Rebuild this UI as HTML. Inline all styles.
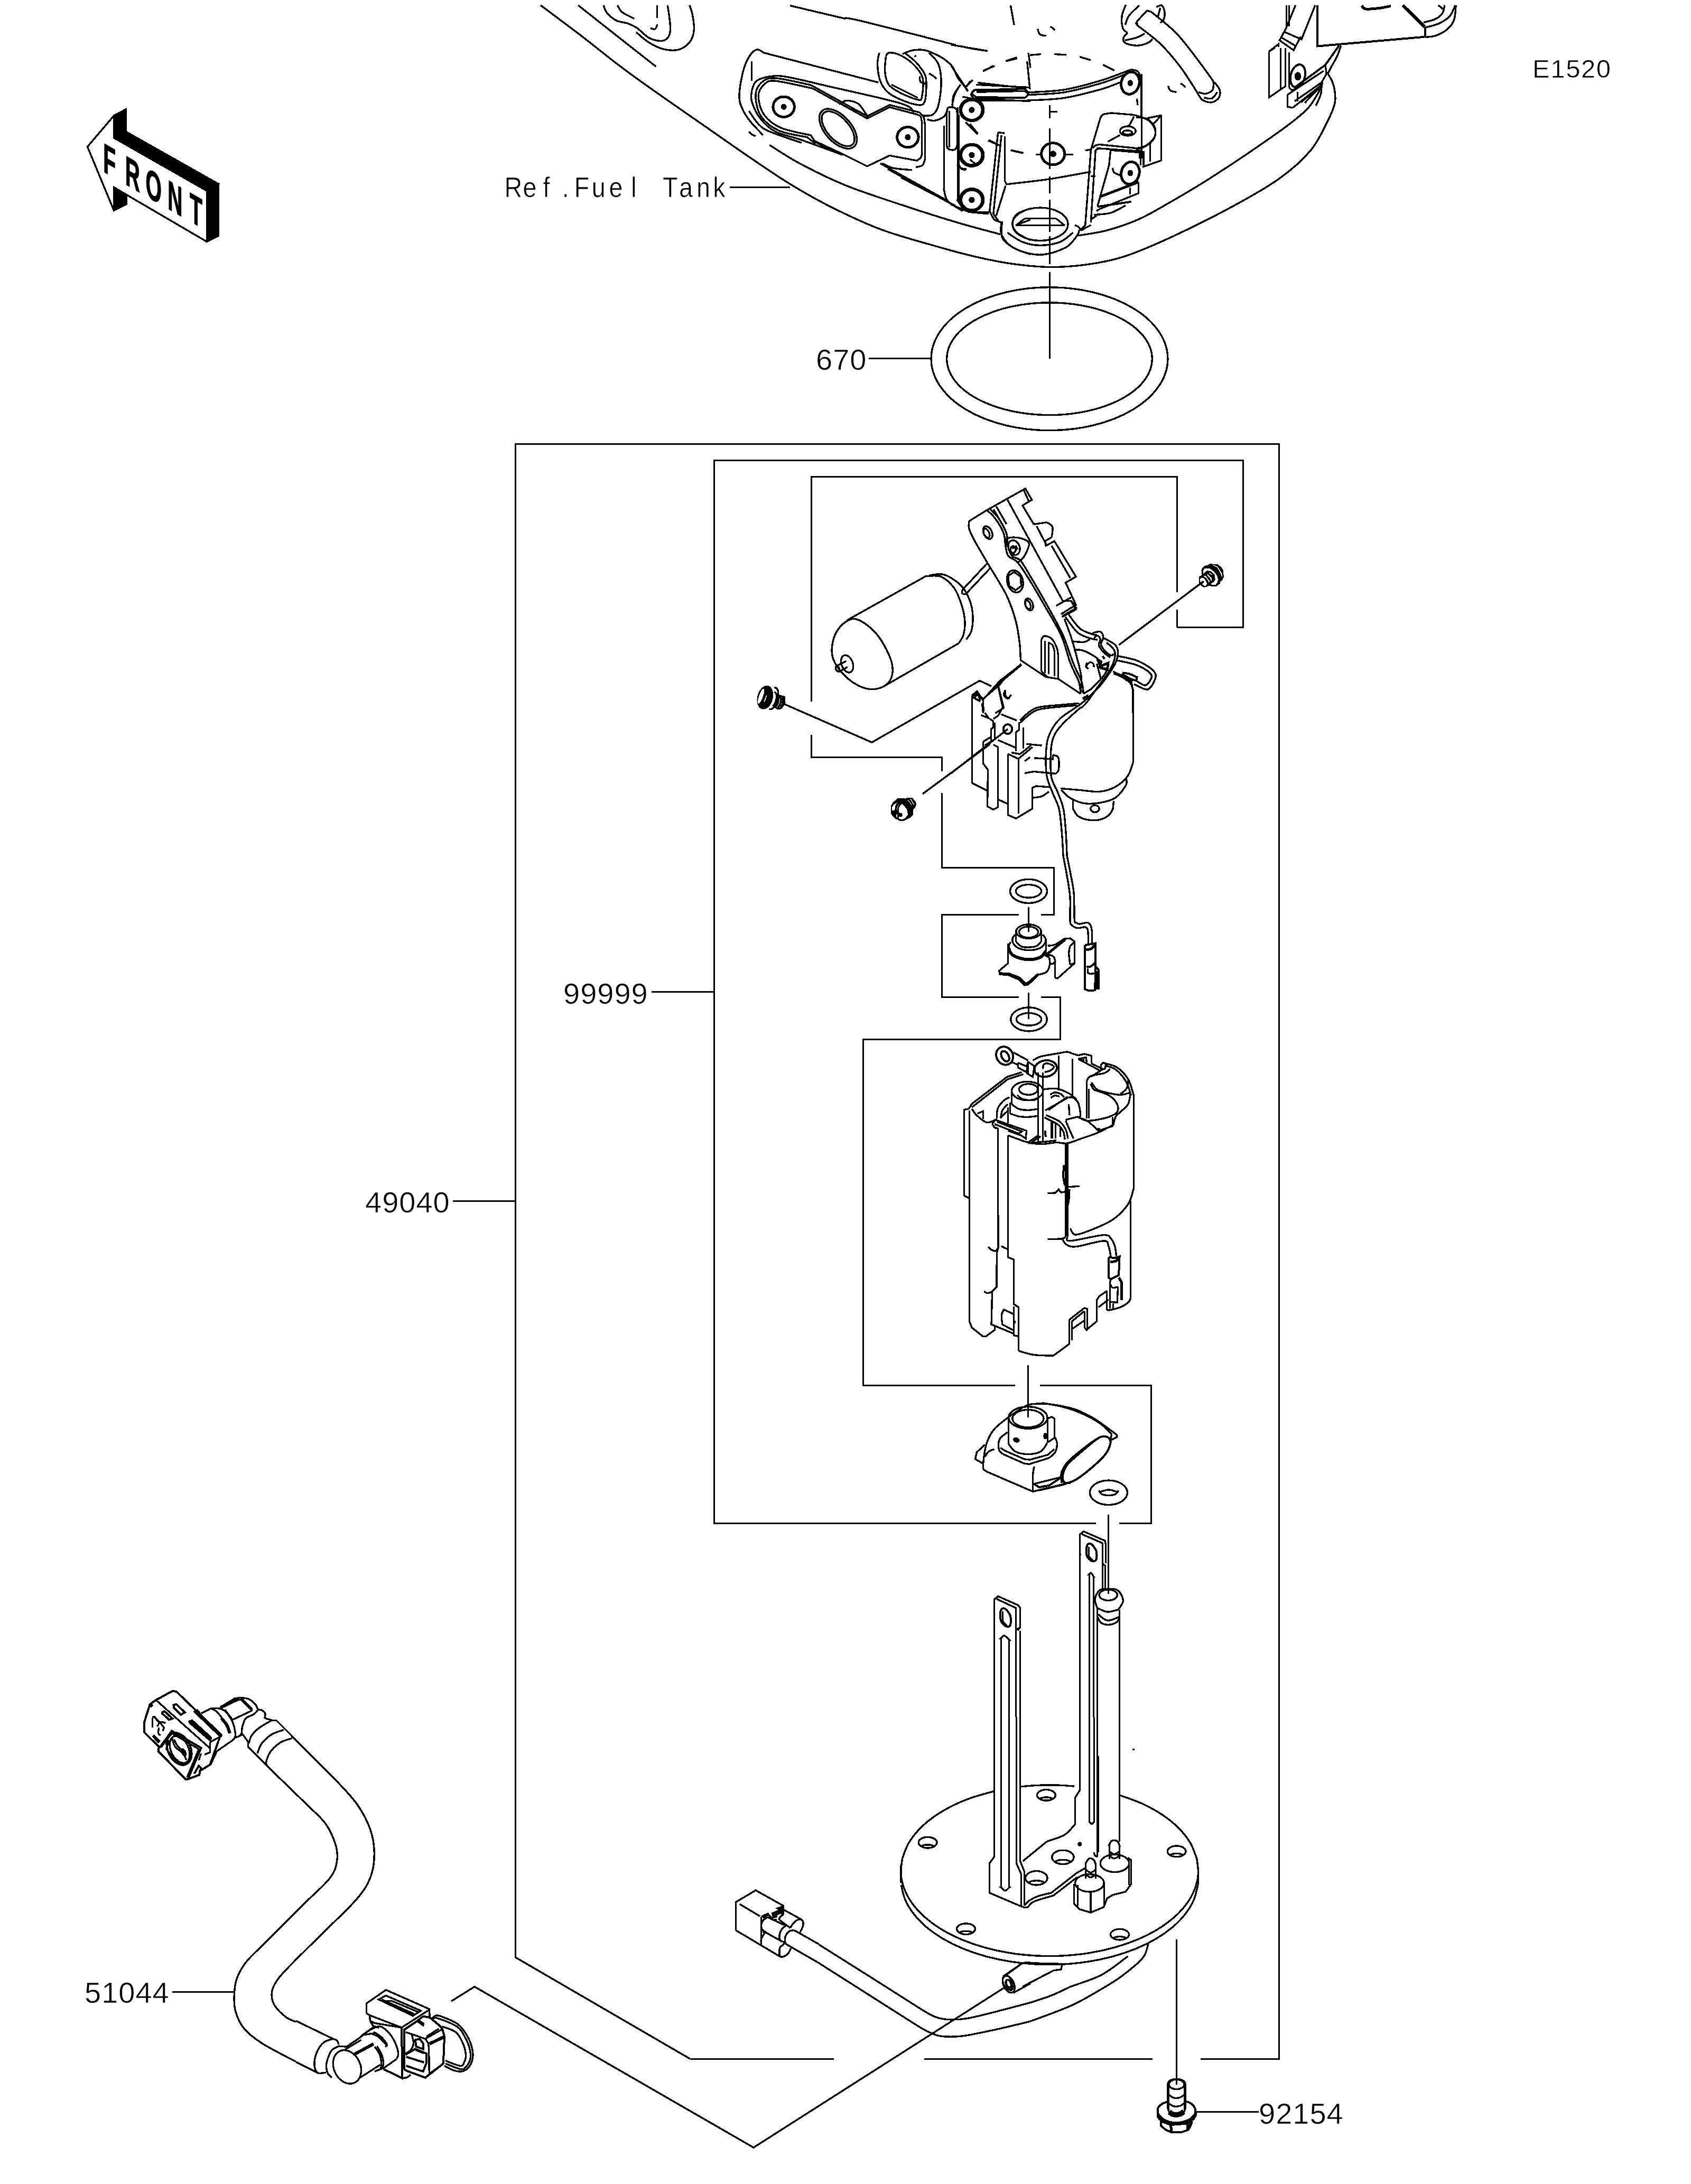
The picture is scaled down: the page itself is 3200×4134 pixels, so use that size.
<!DOCTYPE html>
<html><head><meta charset="utf-8"><title>E1520 Fuel Pump</title>
<style>
html,body{margin:0;padding:0;background:#fff}
svg{display:block}
.ln path,.ln ellipse,.ln circle,.ln rect{fill:none;stroke:#000;stroke-width:3.4;stroke-linecap:butt;stroke-linejoin:miter}
text{font-family:"Liberation Sans",sans-serif;fill:#000}
</style></head><body>
<svg width="3200" height="4134" viewBox="0 0 3200 4134" shape-rendering="crispEdges">
<rect width="3200" height="4134" fill="#fff"/>
<g class="ln" fill="none" stroke="#000" stroke-width="3">
<path d="M1306.5 3897.5 L975.5 3705.0 L975.5 840.5 L2420.5 840.5 L2420.5 3897.5 L2272.0 3897.5"/>
<path d="M2181.0 3897.5 L1749.0 3897.5"/>
<path d="M1577.5 3897.5 L1306.5 3897.5"/>
<path d="M2227.5 1187.5 L2352.5 1187.5 L2352.5 871.5 L1351.5 871.5 L1351.5 2883.5 L2074.0 2883.5"/>
<path d="M2118.0 2883.5 L2178.5 2883.5 L2178.5 2622.5 L1968.0 2622.5"/>
<path d="M1921.0 2622.5 L1633.5 2622.5 L1633.5 1967.5 L2006.5 1967.5 L2006.5 1887.5 L1970.0 1887.5"/>
<path d="M1927.5 1887.5 L1782.5 1887.5 L1782.5 1731.5 L1927.5 1731.5"/>
<path d="M1970.0 1731.5 L1994.5 1731.5 L1994.5 1642.5 L1782.5 1642.5 L1782.5 1501.0"/>
<path d="M1782.5 1460.0 L1782.5 1433.5 L1535.5 1433.5 L1535.5 1391.0"/>
<path d="M1535.5 1328.0 L1535.5 902.5 L2227.5 902.5 L2227.5 1120.5"/>
<path d="M2227.5 1153.5 L2227.5 1187.5"/>
<path d="M857.0 2273.5 L975.0 2273.5"/>
<path d="M1233.0 1877.5 L1351.0 1877.5"/>
<path d="M326.0 3770.5 L443.0 3770.5"/>
<path d="M2262.0 3997.5 L2382.0 3997.5"/>
<path d="M1381.0 354.5 L1495.0 354.5"/>
<path d="M1643.5 678.5 L1762.0 678.5"/>
<path d="M1906.5 3758.5 L1426.0 4065.0 L898.0 3760.5 L854.0 3788.0"/>
<path d="M2226.5 3671.0 L2226.5 3945.5"/>
<ellipse cx="1986.0" cy="679.2" rx="223.9" ry="135.5"/>
<ellipse cx="1986.0" cy="679.2" rx="194.4" ry="106.4"/>
<path d="M1986.5 515.3 L1986.5 679.2"/>
<path d="M165.5 277.7 L215.9 218.6 L238.5 206.8 L238.5 249.3 L413.5 348.2 L413.5 446.2 L391.4 457.5 L215.5 354.6 L215.5 398.4 L165.5 277.7 Z"/>
<path d="M215.9 218.6 L238.5 206.8 L238.5 249.3 L413.4 348.2 L391.4 361.2 L215.9 261.2 Z" style="fill:#000;"/>
<path d="M391.4 361.2 L413.5 348.2 L413.5 446.2 L391.4 457.5 Z" style="fill:#000;"/>
<path d="M215.9 354.6 L239.5 368.8 L239.5 386.5 L215.9 398.4 Z" style="fill:#000;"/>
<path d="M1023.0 10.0 C1035.7 19.5 1073.3 47.3 1099.0 67.0 C1124.7 86.7 1151.0 108.5 1177.0 128.0 C1203.0 147.5 1228.3 165.2 1255.0 184.0 C1281.7 202.8 1309.7 222.0 1337.0 241.0 C1364.3 260.0 1392.3 279.9 1419.0 298.0 C1445.7 316.1 1470.7 333.5 1497.0 349.5 C1523.3 365.5 1548.3 379.8 1577.0 394.0 C1605.7 408.2 1636.7 423.0 1669.0 435.0 C1701.3 447.0 1742.2 457.7 1771.0 466.0 C1799.8 474.3 1818.3 479.5 1842.0 485.0 C1865.7 490.5 1888.8 495.6 1913.0 499.0 C1937.2 502.4 1963.3 505.2 1987.0 505.5 C2010.7 505.8 2031.8 504.2 2055.0 501.0 C2078.2 497.8 2099.5 494.5 2126.0 486.0 C2152.5 477.5 2179.7 465.8 2214.0 450.0 C2248.3 434.2 2297.5 409.7 2332.0 391.0 C2366.5 372.3 2396.3 355.7 2421.0 338.0 C2445.7 320.3 2464.8 303.0 2480.0 285.0 C2495.2 267.0 2504.3 245.0 2512.0 230.0 C2519.7 215.0 2523.8 205.0 2526.0 195.0 C2528.2 185.0 2526.3 176.8 2525.5 170.0 C2524.7 163.2 2523.1 159.0 2521.0 154.0 C2518.9 149.0 2514.3 142.3 2513.0 140.0"/>
<path d="M2040.0 446.0 C2049.2 444.3 2075.8 441.2 2095.0 436.0 C2114.2 430.8 2135.2 423.8 2155.0 415.0 C2174.8 406.2 2194.3 394.2 2214.0 383.0 C2233.7 371.8 2253.3 360.2 2273.0 348.0 C2292.7 335.8 2312.3 323.0 2332.0 310.0 C2351.7 297.0 2373.0 282.5 2391.0 270.0 C2409.0 257.5 2426.0 245.8 2440.0 235.0 C2454.0 224.2 2465.8 215.0 2475.0 205.0 C2484.2 195.0 2490.3 183.2 2495.0 175.0 C2499.7 166.8 2501.7 159.2 2503.0 156.0"/>
<path d="M1094.0 9.9 C1106.2 19.5 1142.2 48.1 1166.8 67.4 C1191.3 86.8 1228.9 116.2 1241.3 126.0"/>
<path d="M1141.9 9.9 C1143.1 12.4 1144.9 20.0 1149.0 24.8 C1153.2 29.7 1160.3 35.8 1166.8 39.0 C1173.3 42.3 1181.5 42.0 1188.1 44.4 C1194.6 46.7 1199.3 48.8 1205.8 53.2 C1212.3 57.7 1220.0 66.9 1227.1 71.0 C1234.2 75.0 1242.5 77.1 1248.4 77.4 C1254.3 77.6 1259.2 76.2 1262.6 72.7 C1265.9 69.3 1268.0 64.2 1268.6 56.8 C1269.2 49.4 1267.0 36.2 1266.1 28.4 C1265.2 20.6 1263.7 13.0 1263.3 9.9"/>
<path d="M1168.5 9.9 C1170.0 12.1 1172.1 18.8 1177.4 23.1 C1182.7 27.3 1196.6 33.4 1200.5 35.5"/>
<path d="M1243.5 9.9 L1243.5 33.7"/>
<path d="M1230.6 53.2 C1232.1 53.5 1237.3 56.2 1239.5 55.0 C1241.8 53.8 1243.3 47.6 1244.1 46.1"/>
<path d="M1204.0 61.0 C1207.9 64.2 1218.5 74.5 1227.1 79.8 C1235.7 85.2 1246.0 90.6 1255.5 93.0 C1264.9 95.3 1275.6 96.2 1283.9 94.0 C1292.1 91.8 1300.2 86.0 1305.1 79.8 C1310.1 73.6 1312.4 65.3 1313.3 56.8 C1314.2 48.2 1311.8 36.2 1310.5 28.4 C1309.1 20.6 1306.0 13.0 1305.1 9.9"/>
<path d="M1495.0 10.6 L1600.0 35.5"/>
<path d="M1456.4 274.6 C1465.9 280.4 1489.6 296.7 1513.2 309.3 C1536.9 321.9 1566.4 337.1 1598.4 350.1 C1630.3 363.2 1669.3 375.6 1704.8 387.4 C1740.3 399.2 1779.9 411.8 1811.3 421.1 C1842.6 430.5 1879.3 439.7 1892.9 443.5"/>
<path d="M1445.8 100.0 C1443.4 99.0 1436.3 92.2 1431.3 94.0 C1426.2 95.7 1420.1 102.7 1415.6 110.6 C1411.2 118.6 1407.4 129.6 1404.6 141.9 C1401.9 154.2 1398.6 173.1 1399.0 184.4 C1399.3 195.8 1403.1 202.2 1406.8 210.0 C1410.4 217.8 1414.8 223.7 1421.0 231.3 C1427.1 238.9 1439.9 251.4 1443.7 255.4"/>
<path d="M1422.5 116.0 L1422.5 153.2"/>
<path d="M1445.8 100.0 L1662.2 156.1"/>
<path d="M1417.4 249.0 C1418.3 249.9 1420.7 252.9 1422.7 254.3 C1424.8 255.8 1428.7 257.3 1429.8 257.9"/>
<path d="M1417.4 210.0 C1420.4 214.1 1428.7 228.3 1435.2 234.8 C1441.7 241.3 1442.8 243.1 1456.4 249.0 C1470.0 254.9 1506.7 266.8 1516.8 270.3"/>
<path d="M1422.7 171.0 C1424.2 168.0 1425.4 157.7 1431.6 153.2 C1437.8 148.8 1449.9 145.5 1460.0 144.4 C1470.0 143.2 1473.6 142.9 1491.9 146.1 C1510.3 149.4 1534.5 155.6 1570.0 163.9 C1605.5 172.1 1678.2 187.5 1704.8 195.8 C1731.4 204.1 1725.5 210.6 1729.7 213.5"/>
<path d="M1422.7 171.0 C1422.7 174.5 1420.1 183.4 1422.7 192.3 C1425.4 201.1 1431.3 214.7 1438.7 224.2 C1446.1 233.6 1454.1 242.2 1467.1 249.0 C1480.1 255.8 1495.5 257.6 1516.8 265.0 C1538.1 272.4 1581.8 288.6 1594.8 293.4"/>
<path d="M1538.1 167.4 C1526.2 165.1 1482.5 154.4 1467.1 153.2 C1451.7 152.0 1451.1 155.6 1445.8 160.3 C1440.5 165.1 1435.2 172.1 1435.2 181.6 C1435.2 191.1 1438.7 207.0 1445.8 217.1 C1452.9 227.1 1463.0 235.4 1477.7 241.9 C1492.5 248.4 1525.0 253.8 1534.5 256.1 L1534.5 256.1 L1541.6 266.8 L1598.4 293.4 L1641.0 314.7 L1683.5 294.4 L1735.0 304.0 L1735.0 304.0 C1736.2 303.1 1740.5 300.8 1742.1 298.7 C1743.7 296.6 1744.1 292.8 1744.6 291.6 L1744.5 291.6 L1744.5 231.3 L1744.6 231.3 C1744.1 229.5 1743.4 223.0 1742.1 220.6 C1740.8 218.3 1737.6 217.7 1736.8 217.1 L1736.8 217.1 L1683.5 202.9 L1641.0 224.2 L1538.1 167.4"/>
<path d="M1534.5 161.0 C1523.3 158.8 1482.8 148.6 1467.1 147.9 C1451.4 147.2 1446.7 151.2 1440.5 156.8 C1434.3 162.4 1429.8 171.0 1429.8 181.6 C1429.8 192.3 1433.1 209.7 1440.5 220.6 C1447.9 231.6 1459.7 240.7 1474.2 247.3 C1488.7 253.8 1518.5 257.6 1527.4 259.7 L1527.4 259.7 L1543.4 272.1"/>
<path d="M1534.5 161.0 L1641.0 219.9 L1683.5 198.6 L1740.3 212.8 L1740.3 212.8 C1741.6 214.4 1746.5 218.7 1748.1 222.4 C1749.8 226.1 1749.9 232.8 1750.2 234.8 L1750.5 234.8 L1750.5 302.2 L1750.2 302.2 C1749.5 304.0 1748.5 310.5 1745.6 312.9 C1742.8 315.3 1735.3 315.8 1733.2 316.4"/>
<path d="M1669.3 309.3 C1672.9 310.8 1681.2 316.1 1690.6 318.2 C1700.1 320.3 1720.2 321.2 1726.1 321.8"/>
<path d="M1541.6 266.8 L1548.7 272.1 L1594.8 293.4"/>
<ellipse cx="1483.1" cy="202.2" rx="20.2" ry="19.2" style="stroke-width:5;"/>
<ellipse cx="1483.1" cy="202.2" rx="3.9" ry="3.9" style="fill:#000;"/>
<ellipse cx="1717.9" cy="259.7" rx="20.2" ry="19.2" style="stroke-width:5;"/>
<ellipse cx="1717.9" cy="259.7" rx="3.9" ry="3.9" style="fill:#000;"/>
<ellipse cx="1838.9" cy="208.2" rx="20.2" ry="19.2" style="stroke-width:5;"/>
<ellipse cx="1838.9" cy="208.2" rx="3.9" ry="3.9" style="fill:#000;"/>
<ellipse cx="1838.9" cy="293.4" rx="20.2" ry="19.2" style="stroke-width:5;"/>
<ellipse cx="1838.9" cy="293.4" rx="3.9" ry="3.9" style="fill:#000;"/>
<ellipse cx="1838.9" cy="378.5" rx="20.2" ry="19.2" style="stroke-width:5;"/>
<ellipse cx="1838.9" cy="378.5" rx="3.9" ry="3.9" style="fill:#000;"/>
<ellipse cx="1586.0" cy="243.7" rx="45.4" ry="24.8" transform="rotate(48.0 1586.0 243.7)"/>
<ellipse cx="1586.0" cy="243.7" rx="40.4" ry="20.6" transform="rotate(48.0 1586.0 243.7)"/>
<path d="M1587.7 197.6 C1590.1 196.4 1596.0 190.8 1601.9 190.5 C1607.8 190.2 1617.3 192.0 1623.2 195.8 C1629.1 199.6 1634.2 208.8 1637.4 213.5 C1640.7 218.3 1641.8 222.4 1642.7 224.2"/>
<path d="M1612.6 204.7 L1630.3 213.5"/>
<path d="M1664.0 100.0 C1663.4 103.5 1660.2 112.4 1660.5 121.3 C1660.8 130.2 1662.5 144.4 1665.8 153.2 C1669.0 162.1 1673.5 168.6 1680.0 174.5 C1686.5 180.4 1695.4 184.7 1704.8 188.7 C1714.3 192.7 1729.4 197.8 1736.8 198.6 C1744.1 199.5 1746.5 198.6 1749.2 194.0 C1751.8 189.4 1752.4 179.5 1752.7 171.0 C1753.0 162.4 1754.2 151.4 1750.9 142.6 C1747.7 133.7 1739.7 124.8 1733.2 117.7 C1726.7 110.6 1715.5 103.0 1711.9 100.0"/>
<path d="M1676.4 107.1 C1676.1 111.8 1673.8 126.6 1674.7 135.5 C1675.5 144.4 1676.7 153.5 1681.8 160.3 C1686.8 167.1 1695.7 171.6 1704.8 176.3 C1714.0 181.0 1730.1 187.5 1736.8 188.7 C1743.4 189.9 1743.1 190.5 1744.6 183.4 C1746.0 176.3 1748.7 156.8 1745.6 146.1 C1742.5 135.5 1733.5 126.6 1726.1 119.5 C1718.7 112.4 1708.7 106.8 1701.3 103.5 C1693.9 100.3 1685.9 99.4 1681.8 100.0 C1677.6 100.6 1677.3 105.9 1676.4 107.1"/>
<path d="M1687.1 160.3 L1736.8 185.2"/>
<path d="M1740.3 144.4 C1740.6 146.1 1740.0 152.6 1742.1 155.0 C1744.1 157.4 1750.9 158.0 1752.7 158.5"/>
<path d="M1758.0 100.0 C1761.0 103.5 1771.9 111.8 1775.8 121.3 C1779.6 130.8 1781.1 143.8 1781.1 156.8 C1781.1 169.8 1778.4 189.3 1775.8 199.3 C1773.1 209.4 1769.9 213.8 1765.1 217.1 C1760.4 220.3 1750.4 218.6 1747.4 218.9"/>
<path d="M1758.0 139.0 C1759.5 139.9 1764.5 142.6 1766.9 144.4 C1769.3 146.1 1771.3 148.8 1772.2 149.7"/>
<path d="M1814.8 163.9 C1813.0 166.8 1806.2 175.1 1804.2 181.6 C1802.1 188.1 1802.7 199.3 1802.4 202.9"/>
<path d="M1754.5 226.0 C1756.9 226.4 1763.4 229.3 1768.7 228.4 C1774.0 227.6 1782.3 224.3 1786.4 220.6 C1790.6 217.0 1792.3 208.8 1793.5 206.4"/>
<path d="M1791.8 213.5 C1792.0 212.1 1791.9 206.4 1793.5 204.7 C1795.1 202.9 1798.6 202.6 1801.3 202.9 C1804.1 203.2 1808.2 204.7 1809.8 206.4 C1811.5 208.2 1811.0 212.4 1811.3 213.5 L1811.5 213.5 L1811.5 275.6 L1811.3 275.6 C1810.7 276.8 1809.5 281.4 1807.7 282.7 C1805.9 284.1 1803.0 284.1 1800.6 283.8 C1798.3 283.5 1795.0 282.3 1793.5 281.0 C1792.0 279.6 1792.0 276.5 1791.8 275.6 L1791.5 275.6 L1791.5 213.5"/>
<path d="M1796.5 210.0 L1796.5 279.2"/>
<path d="M1786.5 238.4 L1786.5 359.0 L1786.4 359.0 C1787.6 362.6 1787.6 373.5 1793.5 380.3 C1799.4 387.1 1817.2 396.6 1821.9 399.8"/>
<path d="M1814.5 217.1 L1814.5 380.3 L1814.8 380.3 C1816.0 382.7 1817.8 391.0 1821.9 394.5 C1826.0 398.0 1830.8 400.4 1839.7 401.6 C1848.5 402.8 1869.2 401.6 1875.1 401.6"/>
<path d="M1665.8 309.3 L1793.5 380.3"/>
<path d="M1680.0 320.0 L1821.9 398.0"/>
<path d="M1704.8 336.0 L1807.7 389.2"/>
<path d="M1811.3 311.1 C1812.4 312.3 1815.4 316.7 1818.4 318.2 C1821.3 319.7 1827.2 319.7 1829.0 320.0"/>
<path d="M1827.2 231.3 L1850.3 254.3"/>
<path d="M1869.8 266.1 L1892.9 275.6"/>
<path d="M1912.4 284.5 L1935.5 289.8"/>
<path d="M1860.9 133.7 L1882.2 124.8"/>
<path d="M1903.5 116.0 L1924.8 110.6"/>
<path d="M1836.1 153.2 L1829.0 163.9"/>
<path d="M1845.0 169.2 L1939.0 172.7 L1939.0 172.7 C1940.2 173.6 1946.1 176.0 1946.1 178.1 C1946.1 180.1 1940.2 184.0 1939.0 185.2 L1939.0 185.2 L1846.7 183.4 L1846.7 183.4 C1845.4 182.2 1839.2 178.7 1838.9 176.3 C1838.6 173.9 1844.0 170.4 1845.0 169.2"/>
<path d="M1846.7 160.3 L1950.0 165.6"/>
<path d="M1843.2 186.9 L1950.0 191.5"/>
<path d="M1946.1 100.0 L1950.0 128.4"/>
<path d="M1896.4 419.3 C1896.4 424.4 1892.9 441.2 1896.4 449.5 C1900.0 457.8 1908.8 463.7 1917.7 469.0 C1926.6 474.3 1944.6 479.4 1950.0 481.4"/>
<path d="M1950.0 394.5 C1945.8 396.3 1930.5 400.4 1924.8 405.1 C1919.1 409.9 1915.9 417.0 1915.9 422.9 C1915.9 428.8 1919.1 435.3 1924.8 440.6 C1930.5 445.9 1945.8 452.5 1950.0 454.8"/>
<path d="M1926.6 424.7 L1950.0 415.8"/>
<path d="M1707.7 102.3 C1710.7 101.1 1719.4 96.7 1726.1 95.4 C1732.8 94.1 1741.0 93.7 1747.6 94.6 C1754.3 95.5 1759.7 97.9 1766.1 100.8 C1772.5 103.6 1779.9 107.2 1786.1 111.5 C1792.2 115.9 1798.6 121.0 1803.0 126.9 C1807.3 132.8 1808.6 141.0 1812.2 146.9 C1815.8 152.8 1821.3 157.9 1824.5 162.3 C1827.7 166.6 1830.3 171.2 1831.4 173.0"/>
<path d="M1730.7 105.4 L1733.8 106.9" style="stroke-width:4;"/>
<path d="M1986.5 199.0 L1986.5 223.9"/>
<path d="M1986.5 243.4 L1986.5 319.7"/>
<path d="M1986.5 333.9 L1986.5 365.8"/>
<path d="M1986.5 378.2 L1986.5 438.5"/>
<path d="M1986.5 447.4 L1986.5 499.9"/>
<path d="M1987.0 211.5 L2000.5 211.5"/>
<path d="M1943.7 174.9 C1955.2 174.1 1989.5 173.7 2012.9 169.9 C2036.3 166.1 2062.6 158.6 2083.9 152.2 C2105.1 145.8 2131.2 135.0 2140.6 131.6"/>
<path d="M1945.5 179.5 C1956.7 178.7 1989.8 178.6 2012.9 174.9 C2036.0 171.2 2064.3 163.2 2083.9 157.5 C2103.4 151.8 2122.3 143.3 2130.0 140.5"/>
<path d="M1943.7 190.2 C1955.2 189.4 1989.5 189.1 2012.9 185.5 C2036.3 182.0 2065.5 174.0 2083.9 168.9 C2102.2 163.7 2116.4 157.0 2122.9 154.7"/>
<path d="M2140.6 131.6 C2142.7 132.2 2150.0 132.5 2153.0 135.2 C2156.1 137.8 2158.1 145.5 2159.1 147.6"/>
<path d="M2159.5 147.6 L2159.5 220.3"/>
<path d="M2151.3 186.6 L2153.0 199.0"/>
<path d="M1812.5 202.6 L1812.5 380.0 L1812.4 380.0 C1813.9 382.1 1817.7 388.9 1821.3 392.4 C1824.8 395.9 1831.6 399.8 1833.7 401.3"/>
<path d="M1800.0 387.1 L1833.7 401.3 L1871.0 404.8"/>
<path d="M1901.5 257.6 L1901.5 342.7 L1904.7 348.8 L1904.7 348.8 C1918.0 347.2 1957.9 343.1 1984.5 339.2 C2011.1 335.2 2051.0 327.4 2064.3 325.0"/>
<path d="M1888.7 250.5 L1901.1 252.2"/>
<path d="M1888.7 250.5 L1872.7 399.5 L1872.7 399.5 C1874.2 402.2 1877.9 411.9 1881.6 415.5 C1885.3 419.0 1892.8 419.9 1895.1 420.8"/>
<path d="M1895.1 255.8 L1879.8 404.8 L1888.7 417.2"/>
<path d="M1902.9 351.6 L1885.2 408.4"/>
<ellipse cx="1968.5" cy="424.3" rx="52.5" ry="31.2"/>
<path d="M1922.4 426.5 L2014.7 426.5"/>
<path d="M1939.1 413.5 L1998.7 413.5"/>
<path d="M1922.4 426.8 L1939.1 413.7"/>
<path d="M1998.7 413.7 L2014.7 426.8"/>
<path d="M1895.1 420.8 C1895.2 424.9 1891.5 437.3 1895.8 445.6 C1900.1 453.9 1908.5 464.4 1920.6 470.5 C1932.8 476.6 1952.6 482.5 1968.5 482.2 C1984.5 481.9 2004.8 474.8 2016.4 468.7 C2028.1 462.6 2034.2 451.1 2038.4 445.6 C2042.7 440.2 2041.4 437.6 2042.0 436.0"/>
<path d="M1906.4 440.3 C1911.2 443.3 1924.5 454.0 1934.8 458.0 C1945.2 462.1 1956.7 464.4 1968.5 464.4 C1980.4 464.4 1995.4 462.1 2005.8 458.0 C2016.1 454.0 2026.5 443.3 2030.6 440.3"/>
<path d="M2042.0 436.0 C2043.1 435.9 2046.4 435.7 2048.4 435.0 C2050.3 434.2 2051.0 432.9 2053.7 431.4 C2056.4 430.0 2062.6 427.0 2064.3 426.1"/>
<path d="M2034.2 426.1 C2035.4 426.7 2039.5 428.2 2041.3 429.7 C2043.1 431.1 2044.2 434.1 2044.8 435.0"/>
<path d="M2082.1 223.9 C2083.0 222.7 2083.9 218.4 2087.4 216.8 C2091.0 215.1 2100.7 214.4 2103.4 213.9 L2103.4 213.9 L2145.9 217.5 L2145.9 217.5 C2150.4 219.1 2166.1 223.1 2172.6 227.4 C2179.1 231.7 2182.9 238.1 2185.0 243.4 C2187.0 248.7 2187.6 254.0 2185.0 259.3 C2182.3 264.7 2174.6 271.8 2169.0 275.3 C2163.4 278.9 2154.2 279.7 2151.3 280.6 L2151.3 280.6 L2080.3 273.5 L2080.3 273.5 C2079.1 273.8 2075.3 274.1 2073.2 275.3 C2071.1 276.5 2068.8 279.7 2067.9 280.6"/>
<path d="M2082.1 223.9 L2064.3 284.2 L2053.7 426.1 L2044.8 435.0"/>
<path d="M2075.0 280.6 L2154.8 286.0"/>
<path d="M2064.3 420.8 L2073.2 284.2 L2073.2 284.2 L2078.5 281.3"/>
<path d="M2064.3 333.5 L2073.2 333.5"/>
<path d="M2185.0 259.3 L2176.5 271.8 L2176.5 305.5"/>
<path d="M2170.8 223.9 L2197.5 218.5 L2197.5 303.7 L2161.9 316.1"/>
<path d="M2197.4 218.5 L2181.4 236.3"/>
<path d="M2158.5 286.0 L2158.5 312.6"/>
<path d="M2163.5 286.0 L2163.5 312.6" style="stroke-width:4;"/>
<ellipse cx="2134.2" cy="248.0" rx="14.9" ry="8.9"/>
<ellipse cx="2133.5" cy="250.8" rx="8.9" ry="3.9"/>
<path d="M2145.9 220.3 C2145.1 222.1 2142.4 227.7 2140.6 231.0 C2138.9 234.2 2136.2 238.4 2135.3 239.8"/>
<path d="M2101.6 284.2 L2098.8 312.6 L2076.8 390.6"/>
<path d="M2101.6 284.2 L2154.8 288.4"/>
<path d="M2105.1 317.9 C2105.7 319.4 2106.0 324.4 2108.7 326.8 C2111.4 329.1 2119.0 331.2 2121.1 332.1"/>
<path d="M2080.3 372.9 L2154.8 344.5" style="stroke-width:5;"/>
<path d="M2154.5 344.5 L2154.5 365.8 L2080.3 395.9"/>
<path d="M2080.3 395.9 L2075.0 399.5"/>
<path d="M2138.5 355.1 L2138.5 367.6"/>
<path d="M2076.8 391.3 L2140.6 381.8" style="stroke-width:4;"/>
<path d="M2069.7 406.6 C2075.0 406.0 2091.5 406.0 2101.6 403.0 C2111.6 400.1 2125.3 391.2 2130.0 388.9"/>
<path d="M2064.3 415.5 L2075.0 408.4"/>
<ellipse cx="1839.0" cy="207.9" rx="22.0" ry="20.6" style="stroke-width:5;"/>
<ellipse cx="1839.0" cy="207.9" rx="3.9" ry="3.9" style="fill:#000;"/>
<ellipse cx="1839.0" cy="293.8" rx="22.0" ry="20.6" style="stroke-width:5;"/>
<ellipse cx="1839.0" cy="293.8" rx="3.9" ry="3.9" style="fill:#000;"/>
<ellipse cx="1839.0" cy="378.2" rx="22.0" ry="20.6" style="stroke-width:5;"/>
<ellipse cx="1839.0" cy="378.2" rx="3.9" ry="3.9" style="fill:#000;"/>
<ellipse cx="2138.9" cy="157.2" rx="17.0" ry="21.3" transform="rotate(15.0 2138.9 157.2)" style="stroke-width:5;"/>
<ellipse cx="2138.9" cy="157.2" rx="3.5" ry="4.3" style="fill:#000;"/>
<ellipse cx="2138.9" cy="327.5" rx="17.0" ry="21.3" transform="rotate(15.0 2138.9 327.5)" style="stroke-width:5;"/>
<ellipse cx="2138.9" cy="327.5" rx="3.5" ry="4.3" style="fill:#000;"/>
<ellipse cx="1992.7" cy="291.3" rx="22.0" ry="20.6" style="stroke-width:5;"/>
<ellipse cx="1992.7" cy="291.3" rx="4.6" ry="4.3" style="fill:#000;"/>
<path d="M1959.7 292.5 L1970.3 292.5"/>
<path d="M2015.4 292.5 L2030.6 292.5"/>
<path d="M1835.5 301.9 L1846.1 310.8"/>
<path d="M1814.2 310.8 C1815.1 312.3 1817.1 317.9 1819.5 319.7 C1821.9 321.4 1826.9 321.1 1828.4 321.4"/>
<path d="M1860.3 135.2 L1879.8 124.5"/>
<path d="M1902.9 115.6 L1924.2 108.5"/>
<path d="M1949.0 104.3 L1970.3 102.5"/>
<path d="M1995.2 102.5 L2018.2 103.9"/>
<path d="M2043.1 107.5 L2064.3 113.9"/>
<path d="M2087.4 122.7 L2108.7 133.4"/>
<path d="M1835.5 234.5 L1849.7 252.2"/>
<path d="M1871.0 264.7 L1892.3 275.3"/>
<path d="M1913.5 284.2 L1936.6 289.5"/>
<path d="M2053.7 284.9 L2066.1 282.4"/>
<path d="M2096.3 268.2 L2119.3 255.8"/>
<path d="M1800.0 84.8 L1867.4 96.1"/>
<path d="M1943.7 115.6 L1949.0 168.9"/>
<path d="M1844.4 170.6 L1938.4 167.8 L1938.4 167.8 C1939.7 169.2 1945.9 173.1 1946.2 176.0 C1946.5 178.8 1941.2 183.4 1940.2 184.8 L1940.2 184.8 L1844.4 187.3 L1844.4 187.3 C1843.2 186.0 1837.6 182.3 1837.6 179.5 C1837.6 176.7 1843.2 172.1 1844.4 170.6"/>
<path d="M1847.9 174.2 L1936.6 172.4"/>
<path d="M1839.0 190.5 L1943.7 190.5"/>
<path d="M1849.7 156.4 L1941.9 167.1"/>
<path d="M1800.0 124.5 C1802.4 128.1 1808.9 137.8 1814.2 145.8 C1819.5 153.8 1829.0 168.0 1831.9 172.4"/>
<path d="M1828.4 163.5 L1840.8 151.1"/>
<path d="M1817.7 160.0 C1816.0 163.0 1809.8 171.2 1807.1 177.7 C1804.4 184.2 1802.7 195.5 1801.8 199.0"/>
<path d="M1821.3 183.1 L1839.0 186.6"/>
<path d="M2434.5 9.9 L2434.5 53.2"/>
<path d="M2439.5 9.9 L2439.5 49.7"/>
<path d="M2451.6 9.9 L2433.9 53.2"/>
<path d="M2488.9 9.9 L2462.2 76.3"/>
<path d="M2433.9 53.2 L2421.4 76.3 L2448.0 95.1 L2461.5 69.2"/>
<path d="M2430.3 60.3 L2458.7 72.7"/>
<path d="M2425.0 71.0 L2451.6 86.9"/>
<path d="M2401.2 97.6 L2419.5 83.4 L2419.5 88.7"/>
<path d="M2401.5 97.6 L2401.5 184.5 L2432.5 163.2 L2432.5 90.5"/>
<path d="M2423.5 90.5 L2423.5 169.6"/>
<path d="M2401.2 97.6 L2412.6 90.5"/>
<ellipse cx="2455.9" cy="143.7" rx="13.5" ry="22.0" transform="rotate(15.0 2455.9 143.7)" style="stroke-width:4;"/>
<ellipse cx="2455.9" cy="144.4" rx="4.6" ry="6.4" style="fill:#000;"/>
<path d="M2439.5 99.3 L2439.5 165.0"/>
<path d="M2439.2 165.0 C2440.1 165.9 2442.1 169.9 2444.5 170.3 C2446.9 170.7 2451.9 167.9 2453.4 167.5"/>
<path d="M2436.5 179.2 L2436.5 202.2 L2446.3 204.0"/>
<path d="M2436.7 179.2 L2504.8 134.1"/>
<path d="M2446.3 204.0 L2501.3 160.4"/>
<path d="M2455.5 173.9 L2455.5 191.6"/>
<path d="M2462.2 193.4 L2490.6 170.3"/>
<path d="M2469.3 194.4 L2495.9 166.8"/>
<path d="M2160.5 140.2 L2160.5 300.2"/>
<path d="M2197.5 218.2 L2197.5 300.2"/>
<path d="M2150.0 221.8 C2153.5 222.4 2165.4 222.1 2171.3 225.3 C2177.2 228.6 2183.4 235.1 2185.5 241.3 C2187.6 247.5 2186.7 256.7 2183.7 262.6 C2180.8 268.5 2173.4 273.2 2167.7 276.8 C2162.1 280.3 2153.0 282.7 2150.0 283.9"/>
<path d="M2171.3 223.5 L2197.9 218.2"/>
<path d="M2157.5 283.9 L2157.5 300.2" style="stroke-width:5;"/>
<path d="M2150.7 41.4 L2170.5 20.1 L2177.9 21.9"/>
<path d="M2177.9 21.9 C2185.8 28.6 2211.0 47.5 2225.3 62.1 C2239.5 76.7 2251.9 94.1 2263.7 109.4 C2275.5 124.7 2290.8 146.4 2296.2 153.8"/>
<path d="M2151.3 47.3 C2158.7 53.2 2181.9 69.5 2195.7 82.8 C2209.5 96.1 2222.5 111.9 2234.1 127.1 C2245.7 142.4 2260.0 166.6 2265.2 174.5"/>
<path d="M2150.7 41.4 L2151.3 47.3" style="stroke-width:5;"/>
<path d="M2265.2 174.5 C2266.9 176.9 2270.8 186.0 2275.5 189.2 C2280.2 192.4 2288.1 194.4 2293.3 193.7 C2298.4 192.9 2304.1 188.7 2306.6 184.8 C2309.0 180.9 2309.5 174.9 2308.0 170.0 C2306.6 165.1 2299.4 157.7 2297.7 155.2"/>
<path d="M2268.1 174.5 C2270.3 174.9 2277.0 178.1 2281.4 177.4 C2285.9 176.7 2292.3 174.0 2294.7 170.0 C2297.2 166.1 2296.0 156.5 2296.2 153.8"/>
<path d="M2278.5 184.8 C2280.9 185.0 2289.1 188.0 2293.3 186.3 C2297.4 184.6 2301.9 176.4 2303.6 174.5"/>
<path d="M2130.6 8.9 C2129.4 12.3 2124.2 22.2 2123.2 29.6 C2122.3 37.0 2123.0 47.8 2124.7 53.2 C2126.4 58.6 2132.1 60.6 2133.6 62.1"/>
<path d="M2155.8 10.3 C2152.6 13.6 2141.0 23.4 2136.5 29.6 C2132.1 35.7 2130.4 44.4 2129.2 47.3"/>
<path d="M2188.3 13.3 C2190.0 12.8 2196.0 8.6 2198.6 10.3 C2201.3 12.1 2203.5 19.0 2204.0 23.7 C2204.5 28.3 2203.0 35.2 2201.6 38.4 C2200.2 41.6 2196.7 42.1 2195.7 42.9"/>
<path d="M2195.7 14.8 L2191.2 32.5"/>
<path d="M2133.6 62.1 C2132.4 63.6 2126.9 67.8 2126.2 71.0 C2125.5 74.2 2125.0 78.8 2129.2 81.3 C2133.3 83.9 2144.2 86.3 2151.3 86.3 C2158.5 86.3 2167.1 83.4 2172.0 81.3 C2177.0 79.2 2179.4 75.2 2180.9 73.9"/>
<path d="M2129.2 76.3 C2132.9 75.4 2145.2 73.1 2151.3 71.0 C2157.5 68.8 2163.7 64.8 2166.1 63.6"/>
<path d="M1963.6 54.7 C1964.3 56.4 1965.3 62.8 1968.0 65.1 C1970.7 67.3 1977.9 67.5 1979.8 68.0"/>
<path d="M1987.2 50.3 C1988.1 50.8 1990.8 52.0 1992.3 53.2 C1993.7 54.5 1995.5 56.9 1996.1 57.7"/>
<path d="M2210.5 162.6 C2211.2 164.1 2212.2 169.5 2214.9 171.5 C2217.6 173.5 2224.8 174.0 2226.7 174.5"/>
<path d="M2234.1 158.2 C2235.0 158.7 2238.0 159.9 2239.4 161.1 C2240.9 162.4 2242.4 164.8 2243.0 165.6"/>
<path d="M1912.4 10.3 L1919.2 47.3"/>
<path d="M1599.3 33.7 C1606.4 35.2 1607.0 34.0 1641.9 42.6 C1676.8 51.2 1780.9 78.1 1808.7 85.2"/>
<path d="M1815.8 86.9 C1819.9 87.8 1831.8 90.7 1840.6 92.3 C1849.5 93.8 1864.3 95.8 1869.0 96.5"/>
<path d="M2492.5 9.9 L2492.5 87.5 L2696.0 69.8" style="stroke-width:4;"/>
<path d="M2654.6 9.9 L2696.0 50.9" style="stroke-width:6;"/>
<path d="M2696.5 50.9 L2697.2 69.8" style="stroke-width:4;"/>
<path d="M2693.6 42.6 C2697.2 41.6 2709.0 39.4 2714.9 36.7 C2720.8 33.9 2726.0 30.5 2729.1 26.0 C2732.3 21.6 2733.1 12.6 2733.9 9.9"/>
<path d="M2722.0 9.9 L2732.7 18.9"/>
<path d="M2697.2 52.0 C2701.3 50.9 2714.3 48.5 2722.0 44.9 C2729.7 41.4 2738.0 36.6 2743.3 30.8 C2748.6 24.9 2752.2 13.4 2754.0 9.9"/>
<path d="M2697.2 70.5 C2700.5 70.0 2710.4 69.9 2717.3 67.4 C2724.2 64.9 2732.9 60.5 2738.6 55.6 C2744.3 50.7 2748.8 45.5 2751.6 37.8 C2754.4 30.2 2754.6 14.6 2755.1 9.9"/>
<path d="M2576.6 10.6 C2577.9 11.7 2579.1 16.2 2584.8 17.0 C2590.5 17.8 2603.0 16.3 2610.9 15.4 C2618.7 14.4 2628.6 12.0 2632.1 11.4" style="stroke-width:5;"/>
<path d="M2537.5 86.3 C2536.3 89.7 2533.6 99.5 2530.4 106.4 C2527.3 113.3 2521.6 122.2 2518.6 127.7 C2515.6 133.3 2513.7 137.6 2512.7 139.6"/>
<path d="M2534.0 86.3 L2508.0 123.0 L2450.0 165.6" style="stroke-width:4;"/>
<path d="M2508.0 123.0 L2510.3 139.6 L2500.9 156.1 L2450.0 191.6"/>
<path d="M2500.9 156.1 C2500.7 159.7 2501.4 170.1 2499.7 177.4 C2497.9 184.7 2491.8 196.3 2490.2 200.1"/>
<path d="M1574.1 1230.0 C1574.4 1221.7 1576.5 1209.9 1580.2 1201.6 C1583.8 1193.3 1590.2 1185.3 1596.1 1180.3 C1602.0 1175.3 1608.8 1171.4 1615.6 1171.4 C1622.4 1171.4 1629.5 1175.3 1636.9 1180.3 C1644.3 1185.3 1653.2 1193.3 1660.0 1201.6 C1666.8 1209.9 1673.0 1220.5 1677.7 1230.0 C1682.5 1239.4 1686.9 1249.5 1688.4 1258.4 C1689.9 1267.2 1689.3 1276.4 1686.6 1283.2 C1683.9 1290.0 1679.2 1295.6 1672.4 1299.2 C1665.6 1302.7 1655.0 1305.4 1645.8 1304.5 C1636.6 1303.6 1626.3 1299.2 1617.4 1293.8 C1608.5 1288.5 1599.1 1279.7 1592.6 1272.6 C1586.1 1265.5 1581.5 1258.4 1578.4 1251.3 C1575.3 1244.2 1573.8 1238.3 1574.1 1230.0 Z"/>
<path d="M1603.2 1173.9 L1752.2 1090.5"/>
<path d="M1672.4 1299.2 L1814.3 1217.6"/>
<path d="M1752.2 1090.5 C1757.0 1090.7 1771.8 1087.9 1780.6 1091.6 C1789.5 1095.3 1799.0 1104.0 1805.5 1112.9 C1812.0 1121.8 1816.2 1134.2 1819.7 1144.8 C1823.1 1155.5 1825.5 1167.3 1826.0 1176.8 C1826.6 1186.2 1825.2 1194.8 1823.2 1201.6 C1821.3 1208.4 1815.8 1214.9 1814.3 1217.6"/>
<path d="M1759.3 1088.8 C1764.1 1088.6 1777.7 1084.6 1787.7 1088.1 C1797.8 1091.5 1811.7 1101.1 1819.7 1109.3 C1827.6 1117.6 1832.1 1128.3 1835.6 1137.7 C1839.2 1147.2 1840.5 1156.7 1841.0 1166.1 C1841.4 1175.6 1840.2 1187.1 1838.1 1194.5 C1836.0 1201.9 1830.1 1207.8 1828.5 1210.5"/>
<ellipse cx="1603.2" cy="1256.6" rx="10.6" ry="17.0" transform="rotate(-20.0 1603.2 1256.6)"/>
<path d="M1601.4 1251.3 L1583.7 1260.1"/>
<path d="M1603.9 1262.6 L1587.3 1271.5"/>
<ellipse cx="1585.1" cy="1265.8" rx="3.2" ry="5.7" transform="rotate(-20.0 1585.1 1265.8)"/>
<path d="M1821.4 1116.4 L1867.6 1066.8"/>
<path d="M1826.8 1125.3 L1874.7 1074.6"/>
<path d="M1821.4 1116.4 C1821.3 1117.5 1819.8 1121.3 1820.7 1122.8 C1821.6 1124.3 1825.8 1124.9 1826.8 1125.3"/>
<path d="M1867.6 965.6 C1863.7 968.0 1850.1 976.3 1844.5 979.8 C1838.9 983.4 1835.6 985.7 1833.9 986.9 L1833.9 986.9 C1833.9 989.3 1832.1 994.9 1833.9 1001.1 C1835.6 1007.3 1842.7 1020.3 1844.5 1024.2 L1844.5 1024.2 L1869.3 1066.8 L1869.3 1066.8 C1875.3 1076.8 1895.9 1108.8 1904.8 1127.1 C1913.7 1145.4 1918.4 1161.4 1922.6 1176.8 C1926.7 1192.1 1928.2 1207.2 1929.7 1219.3 C1931.1 1231.5 1931.1 1244.5 1931.4 1249.5 L1931.4 1249.5 L1979.3 1281.4"/>
<path d="M1867.6 965.6 C1870.2 968.3 1878.2 974.2 1883.5 981.6 C1888.9 989.0 1896.2 1001.1 1899.5 1010.0 C1902.7 1018.9 1901.6 1027.7 1903.0 1034.8 C1904.5 1041.9 1904.5 1047.5 1908.4 1052.6 C1912.2 1057.6 1919.0 1056.7 1926.1 1065.0 C1933.2 1073.3 1942.7 1088.9 1950.9 1102.2 C1959.2 1115.6 1966.3 1128.3 1975.8 1144.8 C1985.2 1161.4 1999.4 1183.3 2007.7 1201.6 C2016.0 1219.9 2019.8 1240.0 2025.5 1254.8 C2031.1 1269.6 2038.2 1280.5 2041.4 1290.3 C2044.7 1300.1 2044.4 1309.5 2045.0 1313.4"/>
<path d="M1872.9 963.2 C1875.5 965.9 1883.5 972.0 1888.9 979.8 C1894.2 987.6 1901.9 1001.4 1904.8 1010.0 C1907.8 1018.6 1904.8 1024.2 1906.6 1031.3 C1908.4 1038.4 1911.3 1047.5 1915.5 1052.6 C1919.6 1057.6 1924.9 1053.8 1931.4 1061.4 C1937.9 1069.1 1946.2 1084.8 1954.5 1098.7 C1962.8 1112.6 1971.6 1127.7 1981.1 1144.8 C1990.6 1162.0 2003.0 1183.3 2011.3 1201.6 C2019.5 1219.9 2024.9 1240.0 2030.8 1254.8 C2036.7 1269.6 2043.5 1280.8 2046.7 1290.3 C2050.0 1299.8 2049.7 1308.0 2050.3 1311.6"/>
<path d="M1979.3 1281.4 L2002.4 1285.0 L2045.0 1313.4"/>
<ellipse cx="1869.3" cy="1008.2" rx="7.8" ry="12.8" transform="rotate(-25.0 1869.3 1008.2)"/>
<ellipse cx="1866.9" cy="1009.3" rx="5.0" ry="9.2" transform="rotate(-25.0 1866.9 1009.3)"/>
<ellipse cx="1920.8" cy="1100.5" rx="14.9" ry="21.3" transform="rotate(-15.0 1920.8 1100.5)"/>
<path d="M1908.4 1089.8 L1919.0 1082.7 L1931.4 1091.6 L1932.5 1109.3 L1921.9 1117.1 L1909.1 1108.6 Z"/>
<ellipse cx="1947.4" cy="1144.1" rx="7.1" ry="11.7" transform="rotate(-20.0 1947.4 1144.1)"/>
<ellipse cx="1945.3" cy="1144.8" rx="4.6" ry="8.5" transform="rotate(-20.0 1945.3 1144.8)"/>
<path d="M1970.5 1270.8 L1970.5 1211.5 L1970.5 1211.5 C1971.3 1210.3 1972.5 1204.6 1975.8 1204.1 C1979.0 1203.6 1986.0 1205.0 1990.0 1208.7 C1994.0 1212.4 1997.8 1221.1 1999.9 1226.4 C2002.0 1231.8 2002.0 1238.3 2002.4 1240.6 L2002.5 1240.6 L2002.5 1283.9"/>
<path d="M1970.5 1270.8 L1981.1 1280.4"/>
<path d="M1977.5 1213.0 L1977.5 1274.3"/>
<path d="M1984.5 1276.1 L1984.5 1216.5 L1984.7 1216.5 C1985.8 1217.3 1990.0 1218.6 1991.8 1221.1 C1993.5 1223.7 1994.7 1230.0 1995.3 1231.8 L1995.5 1231.8 L1995.5 1279.7"/>
<path d="M1867.6 965.6 L1940.3 924.8 L1952.7 946.1 L1935.0 956.8 L1956.3 992.3"/>
<path d="M1936.8 926.6 L1947.4 949.7"/>
<path d="M1906.6 946.1 L2011.3 1137.7"/>
<path d="M1885.3 958.5 L1904.8 992.3"/>
<path d="M1880.0 963.9 L1899.5 997.6"/>
<path d="M1956.3 992.3 L1981.1 988.7"/>
<path d="M1981.1 988.7 C1982.9 990.2 1990.3 992.8 1991.8 997.6 C1993.2 1002.3 1990.3 1013.8 1990.0 1017.1"/>
<path d="M1990.0 1017.1 L1977.6 1024.2 L1979.3 1033.1 L1995.3 1024.2 L2036.1 1091.6 L2016.6 1103.0 L2036.1 1144.8 L2007.7 1162.6"/>
<path d="M1961.6 995.8 L1981.1 1033.1"/>
<path d="M1990.0 1033.1 L2025.5 1094.4"/>
<path d="M2011.3 1137.5 L2027.2 1137.5 L2036.1 1148.4"/>
<path d="M1998.8 1146.6 L2027.2 1130.6"/>
<path d="M2027.2 1137.7 L2036.1 1153.7 L2009.5 1167.9"/>
<path d="M1903.0 1034.8 C1903.3 1032.5 1902.2 1023.6 1904.8 1020.6 C1907.5 1017.7 1913.7 1017.1 1919.0 1017.1 C1924.3 1017.1 1932.0 1018.6 1936.8 1020.6 C1941.5 1022.7 1947.1 1024.2 1947.4 1029.5 C1947.7 1034.8 1942.1 1046.7 1938.5 1052.6 C1935.0 1058.5 1928.2 1062.9 1926.1 1065.0"/>
<ellipse cx="1919.0" cy="1036.6" rx="10.6" ry="14.2" transform="rotate(-20.0 1919.0 1036.6)"/>
<ellipse cx="1917.2" cy="1040.2" rx="5.0" ry="6.4"/>
<path d="M1915.5 1038.4 L1922.6 1034.1 L1925.4 1040.2"/>
<path d="M1931.4 1258.4 L1892.4 1288.5 L1888.9 1297.4 L1899.5 1340.0 L1883.5 1349.9"/>
<path d="M1892.4 1288.5 L1860.5 1324.0 L1849.8 1311.6 L1839.5 1318.7 L1839.5 1349.9"/>
<path d="M1860.5 1324.0 L1860.5 1349.9"/>
<path d="M1849.8 1311.6 L1855.1 1325.8"/>
<path d="M1839.2 1318.7 L1855.1 1327.6" style="stroke-width:4;"/>
<path d="M1903.0 1306.3 C1902.5 1307.7 1898.9 1312.5 1899.5 1315.1 C1900.1 1317.8 1904.2 1322.2 1906.6 1322.2 C1909.0 1322.2 1912.5 1316.3 1913.7 1315.1"/>
<path d="M1859.4 1331.1 L1860.8 1347.1" style="stroke-width:5;"/>
<path d="M2117.4 1220.8 L2274.7 1102.5" style="stroke-width:3.5;"/>
<path d="M2286.0 1069.6 L2289.3 1067.2 L2304.4 1068.2 L2311.0 1073.4 L2314.8 1079.5 L2315.8 1092.3 L2312.9 1098.5 L2309.1 1100.8 L2308.7 1104.6 L2302.5 1109.5 L2291.2 1109.5 L2286.9 1108.4 L2283.6 1111.2 L2278.4 1111.7 L2275.1 1110.3 L2272.2 1107.4 L2268.9 1104.1 L2268.5 1093.3 L2269.4 1091.4 L2273.5 1089.0 L2273.5 1079.5 L2275.1 1075.3 L2279.3 1071.0 Z" style="stroke-width:0;fill:#000;"/>
<path d="M2280.3 1075.5 L2288.8 1075.5 L2297.3 1081.9 L2303.0 1089.5 L2304.9 1097.0 L2303.5 1103.2 L2300.6 1106.5 L2292.6 1106.5 L2291.6 1105.1 L2297.8 1100.8 L2299.7 1096.1 L2298.7 1088.5 L2291.6 1081.4 L2284.1 1080.0 L2276.5 1087.1 L2276.5 1080.0 Z" style="stroke-width:0;fill:#fff;"/>
<path d="M2295.9 1069.1 L2304.4 1072.9 L2312.0 1084.3 L2312.9 1091.5 L2312.0 1091.5 L2308.2 1081.9 L2303.5 1074.3 L2295.9 1070.5 Z" style="stroke-width:0;fill:#fff;"/>
<path d="M2270.8 1095.1 L2277.0 1093.7 L2280.3 1096.1 L2284.1 1104.1 L2282.6 1108.4 L2280.3 1108.9 L2277.4 1107.9 L2274.6 1105.6 L2278.9 1101.8 L2276.5 1098.9 L2272.7 1101.8 L2270.8 1100.4 Z" style="stroke-width:0;fill:#fff;"/>
<path d="M2277.9 1090.2 L2281.7 1089.9 L2289.3 1100.4 L2287.4 1102.7 L2286.0 1098.5 L2282.2 1093.7 L2277.9 1090.9 Z" style="stroke-width:0;fill:#fff;"/>
<path d="M2283.1 1086.5 L2285.0 1086.5 L2292.6 1094.2 L2293.1 1099.9 L2291.2 1098.5 L2290.2 1094.7 L2283.1 1086.9 Z" style="stroke-width:0;fill:#fff;"/>
<path d="M2287.8 1084.3 L2289.7 1084.0 L2294.0 1087.6 L2293.1 1088.1 L2287.8 1085.0 Z" style="stroke-width:0;fill:#fff;"/>
<path d="M2143.5 1304.3 L2143.5 1349.9"/>
<path d="M2122.3 1276.6 C2124.8 1278.6 2133.4 1283.5 2137.1 1288.4 C2140.8 1293.4 2143.2 1303.2 2144.5 1306.2 L2144.5 1306.2 L2144.5 1442.2 L2144.5 1442.2 C2142.7 1446.6 2139.8 1460.9 2134.1 1468.8 C2128.5 1476.7 2119.3 1484.6 2110.5 1489.5 C2101.6 1494.4 2092.2 1497.4 2080.9 1498.4 C2069.6 1499.4 2054.8 1496.4 2042.5 1495.4 C2030.1 1494.4 2012.9 1493.0 2007.0 1492.5"/>
<path d="M2131.2 1473.2 C2131.1 1475.5 2134.0 1480.4 2130.6 1486.5 C2127.1 1492.7 2118.7 1504.7 2110.5 1510.2 C2102.2 1515.7 2090.8 1517.9 2080.9 1519.7 C2071.0 1521.4 2060.7 1522.1 2051.3 1520.5 C2042.0 1519.0 2031.9 1514.4 2024.7 1510.2 C2017.6 1506.0 2011.2 1497.9 2008.5 1495.4"/>
<path d="M2030.5 1514.6 L2030.5 1530.9 L2030.6 1530.9 C2032.1 1533.1 2035.1 1540.8 2039.5 1544.2 C2043.9 1547.7 2050.3 1550.4 2057.2 1551.6 C2064.1 1552.8 2074.0 1553.1 2080.9 1551.6 C2087.8 1550.1 2094.5 1546.2 2098.6 1542.7 C2102.8 1539.3 2104.8 1532.9 2106.0 1530.9 L2106.0 1530.9 L2107.5 1516.1"/>
<ellipse cx="2072.0" cy="1530.9" rx="8.3" ry="6.5"/>
<path d="M2036.5 1338.7 C2031.6 1342.2 2014.9 1352.0 2007.0 1359.4 C1999.1 1366.8 1993.7 1374.2 1989.2 1383.1 C1984.8 1391.9 1981.8 1398.8 1980.4 1412.6 C1978.9 1426.4 1978.4 1451.1 1980.4 1465.8 C1982.3 1480.6 1988.3 1490.5 1992.2 1501.3 C1996.1 1512.2 2001.2 1518.6 2004.0 1530.9 C2006.9 1543.2 2008.0 1560.4 2009.3 1575.3 C2010.7 1590.1 2011.6 1612.5 2012.0 1619.9"/>
<path d="M2045.4 1338.7 C2040.0 1343.6 2021.0 1359.9 2012.9 1368.3 C2004.8 1376.7 2000.6 1381.1 1996.6 1389.0 C1992.7 1396.9 1990.5 1402.3 1989.2 1415.6 C1988.0 1428.9 1987.3 1455.0 1989.2 1468.8 C1991.2 1482.6 1997.2 1488.0 2001.1 1498.4 C2004.9 1508.7 2009.6 1518.1 2012.3 1530.9 C2015.0 1543.7 2015.9 1560.4 2017.0 1575.3 C2018.2 1590.1 2018.8 1612.5 2019.1 1619.9"/>
<path d="M1992.2 1428.9 L1999.6 1431.0 L1999.6 1431.0 C2000.2 1431.8 2002.8 1431.9 2003.4 1436.3 C2004.1 1440.6 2004.3 1452.3 2003.4 1457.0 C2002.5 1461.7 1999.0 1463.1 1998.1 1464.4 L1998.1 1464.4 L1956.7 1460.5 L1939.0 1463.5"/>
<path d="M1956.7 1434.8 L1992.2 1436.9"/>
<path d="M1939.0 1440.7 L1949.3 1433.3"/>
<path d="M1992.5 1428.9 L1992.5 1439.2"/>
<path d="M1839.5 1316.5 L1839.5 1482.1 L1868.6 1496.9"/>
<path d="M1839.3 1316.5 L1848.8 1308.5 L1859.1 1323.9 L1888.7 1298.8"/>
<path d="M1844.4 1319.5 L1851.7 1313.6 L1856.2 1321.0"/>
<path d="M1888.7 1298.8 L1897.6 1287.0 L1933.1 1257.4" style="stroke-width:5;"/>
<path d="M1888.7 1298.8 L1897.6 1338.7 L1888.7 1355.0 L1879.8 1360.9"/>
<path d="M1902.0 1306.2 C1902.3 1308.2 1902.0 1315.3 1903.5 1318.0 C1905.0 1320.7 1909.6 1321.7 1910.9 1322.4"/>
<path d="M1860.5 1329.8 L1860.5 1347.6"/>
<path d="M1856.2 1353.5 L1871.0 1359.4 L1863.6 1349.1"/>
<path d="M1873.9 1360.9 L1879.5 1365.3 L1879.5 1377.1 L1875.5 1380.1 L1875.5 1403.8"/>
<path d="M1882.5 1368.3 L1882.5 1397.8"/>
<path d="M1894.6 1352.0 L1924.2 1363.8"/>
<path d="M1930.1 1363.8 C1933.1 1361.1 1941.9 1351.8 1947.8 1347.6 C1953.8 1343.4 1955.7 1340.9 1965.6 1338.7 C1975.4 1336.5 1994.2 1335.5 2007.0 1334.3 C2019.8 1333.0 2036.5 1331.8 2042.5 1331.3"/>
<path d="M1930.1 1368.3 C1933.6 1365.3 1944.4 1354.9 1950.8 1350.5 C1957.2 1346.2 1959.2 1344.4 1968.5 1342.3 C1977.9 1340.1 1995.2 1339.0 2007.0 1337.8 C2018.8 1336.6 2034.1 1335.6 2039.5 1335.2"/>
<path d="M1928.5 1366.8 L1928.5 1381.6 L1922.5 1386.0 L1922.5 1421.5"/>
<path d="M1936.5 1377.1 L1936.5 1417.1"/>
<ellipse cx="1907.0" cy="1380.1" rx="8.3" ry="8.9" style="stroke-width:4;"/>
<path d="M1907.0 1380.1 L1800.0 1463.5" style="stroke-width:3.5;"/>
<path d="M1860.5 1403.8 L1860.5 1445.2 L1869.5 1457.0 L1868.6 1526.5 L1879.8 1532.4 L1888.5 1527.9 L1888.5 1414.1 L1879.8 1409.7"/>
<path d="M1860.6 1403.8 L1875.4 1394.9"/>
<path d="M1863.6 1411.1 L1879.8 1400.8"/>
<path d="M1888.7 1400.8 L1922.7 1415.6"/>
<path d="M1907.5 1427.4 L1907.5 1542.7 L1922.7 1549.2 L1953.5 1530.9 L1953.5 1491.0 L1961.1 1488.0 L1989.2 1490.1"/>
<path d="M1907.9 1427.4 L1927.1 1436.3 L1953.8 1414.1"/>
<path d="M1927.5 1436.3 L1927.5 1539.8"/>
<path d="M1913.8 1424.5 L1930.1 1427.4 L1950.8 1411.1"/>
<path d="M1941.9 1408.2 L1971.5 1411.1"/>
<path d="M1888.7 1513.2 L1907.9 1522.0"/>
<path d="M1953.8 1510.2 C1956.7 1509.7 1966.3 1509.2 1971.5 1507.2 C1976.7 1505.3 1982.6 1499.9 1984.8 1498.4"/>
<path d="M1484.3 1332.8 L1649.9 1405.2 L1853.9 1288.4 L1876.0 1298.8"/>
<path d="M1745.9 1502.8 L1873.1 1408.8" style="stroke-width:3.5;"/>
<ellipse cx="1447.9" cy="1320.2" rx="13.0" ry="21.1" transform="rotate(15.0 1447.9 1320.2)" style="fill:#000;"/>
<ellipse cx="1440.1" cy="1317.8" rx="3.8" ry="15.1" transform="rotate(20.0 1440.1 1317.8)" style="stroke-width:0;fill:#fff;"/>
<ellipse cx="1448.4" cy="1322.6" rx="1.0" ry="8.0" transform="rotate(20.0 1448.4 1322.6)" style="stroke-width:0;fill:#fff;"/>
<path d="M1465.5 1302.1 C1465.8 1302.0 1466.7 1301.8 1467.2 1301.9 C1467.8 1301.9 1468.3 1302.1 1468.8 1302.3 C1469.3 1302.6 1469.7 1302.9 1470.1 1303.4 C1470.5 1303.8 1470.9 1304.4 1471.2 1305.1 C1471.5 1305.7 1471.8 1306.4 1472.1 1307.3 C1472.3 1308.1 1472.5 1309.0 1472.6 1310.0 C1472.7 1310.9 1472.8 1312.0 1472.8 1313.0 C1472.8 1314.1 1472.8 1315.2 1472.7 1316.4 C1472.6 1317.5 1472.4 1318.7 1472.2 1319.9 C1472.0 1321.1 1471.8 1322.4 1471.5 1323.6 C1471.2 1324.7 1470.8 1326.0 1470.5 1327.1 C1470.1 1328.3 1469.6 1329.4 1469.2 1330.5 C1468.7 1331.6 1468.2 1332.7 1467.7 1333.7 C1467.2 1334.7 1466.6 1335.6 1466.0 1336.4 C1465.4 1337.3 1464.9 1338.1 1464.3 1338.8 C1463.7 1339.4 1463.0 1340.0 1462.4 1340.5 C1461.8 1341.0 1461.2 1341.4 1460.6 1341.7 C1460.0 1342.0 1459.4 1342.2 1458.9 1342.3 C1458.3 1342.4 1457.7 1342.4 1457.2 1342.2 C1456.7 1342.1 1456.0 1341.6 1455.8 1341.5"/>
<path d="M1465.2 1310.2 C1465.3 1310.2 1465.9 1310.2 1466.3 1310.3 C1466.6 1310.4 1466.9 1310.5 1467.2 1310.8 C1467.5 1311.0 1467.8 1311.3 1468.1 1311.7 C1468.3 1312.0 1468.5 1312.4 1468.7 1312.9 C1468.9 1313.4 1469.1 1313.9 1469.2 1314.5 C1469.3 1315.1 1469.4 1315.7 1469.5 1316.4 C1469.5 1317.1 1469.6 1317.8 1469.6 1318.5 C1469.5 1319.3 1469.5 1320.0 1469.4 1320.8 C1469.3 1321.6 1469.2 1322.4 1469.1 1323.2 C1468.9 1324.0 1468.7 1324.8 1468.5 1325.6 C1468.3 1326.4 1468.1 1327.2 1467.8 1327.9 C1467.5 1328.7 1467.2 1329.5 1466.9 1330.2 C1466.6 1330.9 1466.2 1331.6 1465.9 1332.2 C1465.5 1332.9 1465.2 1333.5 1464.8 1334.0 C1464.4 1334.6 1464.0 1335.1 1463.6 1335.5 C1463.2 1336.0 1462.6 1336.5 1462.4 1336.7"/>
<path d="M1470.2 1314.5 C1470.3 1314.5 1470.8 1314.4 1471.1 1314.5 C1471.4 1314.6 1471.7 1314.7 1471.9 1314.9 C1472.2 1315.1 1472.4 1315.4 1472.6 1315.7 C1472.8 1316.0 1473.0 1316.4 1473.2 1316.8 C1473.3 1317.2 1473.4 1317.7 1473.5 1318.3 C1473.6 1318.8 1473.7 1319.3 1473.8 1319.9 C1473.8 1320.5 1473.8 1321.2 1473.8 1321.8 C1473.8 1322.5 1473.7 1323.2 1473.6 1323.9 C1473.6 1324.6 1473.4 1325.3 1473.3 1326.0 C1473.2 1326.7 1473.0 1327.5 1472.8 1328.2 C1472.6 1328.9 1472.4 1329.6 1472.2 1330.3 C1471.9 1331.0 1471.7 1331.7 1471.4 1332.3 C1471.1 1333.0 1470.8 1333.6 1470.5 1334.2 C1470.2 1334.8 1469.8 1335.3 1469.5 1335.8 C1469.2 1336.3 1468.8 1336.8 1468.5 1337.2 C1468.1 1337.6 1467.8 1337.9 1467.4 1338.2 C1467.1 1338.5 1466.6 1338.8 1466.4 1338.9"/>
<path d="M1474.6 1317.7 C1474.8 1317.7 1475.2 1317.7 1475.5 1317.8 C1475.7 1317.8 1476.0 1318.0 1476.2 1318.1 C1476.4 1318.3 1476.6 1318.6 1476.8 1318.8 C1477.0 1319.1 1477.2 1319.5 1477.3 1319.8 C1477.5 1320.2 1477.6 1320.7 1477.7 1321.1 C1477.8 1321.6 1477.9 1322.1 1477.9 1322.6 C1477.9 1323.1 1478.0 1323.7 1477.9 1324.3 C1477.9 1324.9 1477.9 1325.5 1477.8 1326.1 C1477.7 1326.7 1477.6 1327.4 1477.5 1328.0 C1477.4 1328.7 1477.3 1329.3 1477.1 1330.0 C1476.9 1330.6 1476.7 1331.2 1476.5 1331.8 C1476.3 1332.5 1476.1 1333.1 1475.8 1333.6 C1475.6 1334.2 1475.3 1334.8 1475.0 1335.3 C1474.7 1335.8 1474.4 1336.3 1474.1 1336.7 C1473.8 1337.2 1473.5 1337.6 1473.2 1337.9 C1472.9 1338.3 1472.6 1338.6 1472.3 1338.8 C1471.9 1339.1 1471.5 1339.4 1471.3 1339.5"/>
<path d="M1473.9 1316.4 L1483.9 1319.3 L1484.8 1329.2 L1482.0 1334.9 L1477.7 1340.6 L1472.0 1341.5 L1466.4 1338.2"/>
<path d="M1479.2 1321.0 C1479.3 1321.1 1479.7 1321.2 1479.9 1321.3 C1480.1 1321.5 1480.3 1321.7 1480.5 1321.9 C1480.7 1322.2 1480.8 1322.5 1480.9 1322.8 C1481.1 1323.1 1481.2 1323.5 1481.3 1323.9 C1481.4 1324.2 1481.5 1324.7 1481.5 1325.1 C1481.5 1325.6 1481.6 1326.0 1481.6 1326.5 C1481.6 1327.0 1481.5 1327.5 1481.5 1328.1 C1481.4 1328.6 1481.3 1329.1 1481.2 1329.6 C1481.1 1330.2 1481.0 1330.7 1480.9 1331.2 C1480.7 1331.8 1480.6 1332.3 1480.4 1332.8 C1480.2 1333.3 1480.0 1333.8 1479.8 1334.3 C1479.6 1334.8 1479.4 1335.2 1479.1 1335.7 C1478.9 1336.1 1478.6 1336.5 1478.3 1336.9 C1478.1 1337.2 1477.8 1337.6 1477.5 1337.9 C1477.3 1338.1 1476.8 1338.5 1476.7 1338.6"/>
<path d="M1476.3 1330.1 L1478.7 1328.3 L1481.5 1328.7"/>
<path d="M1699.3 1510.5 L1709.7 1510.5 L1712.6 1511.6 L1718.3 1509.5 L1725.8 1509.5 L1732.9 1517.2 L1733.9 1522.4 L1732.0 1528.1 L1728.2 1531.9 L1727.7 1542.3 L1724.9 1546.1 L1719.7 1549.4 L1710.7 1553.5 L1702.2 1553.5 L1698.4 1551.3 L1694.6 1550.4 L1686.6 1541.4 L1685.5 1537.6 L1685.5 1525.8 L1689.9 1518.7 Z" style="stroke-width:0;fill:#000;"/>
<path d="M1707.4 1522.0 C1706.0 1521.4 1705.1 1523.0 1704.1 1524.3 C1703.0 1525.7 1701.7 1527.8 1701.2 1530.0 C1700.8 1532.2 1700.3 1536.0 1701.2 1537.6 C1702.2 1539.2 1706.0 1538.1 1706.9 1539.5 C1707.8 1540.9 1707.8 1545.0 1706.9 1546.1 C1706.0 1547.2 1702.6 1545.5 1701.7 1546.1 C1700.8 1546.7 1700.4 1549.2 1701.7 1549.9 C1703.0 1550.6 1707.5 1551.0 1709.7 1550.4 C1711.9 1549.7 1713.6 1547.4 1714.9 1546.1 C1716.3 1544.8 1717.4 1543.7 1717.8 1542.3 C1718.2 1540.9 1717.6 1539.3 1717.3 1537.6 C1717.0 1535.8 1716.7 1533.6 1715.9 1531.9 C1715.1 1530.2 1714.0 1529.3 1712.6 1527.6 C1711.2 1526.0 1708.8 1522.5 1707.4 1522.0 Z" style="stroke-width:0;fill:#fff;"/>
<path d="M1688.0 1528.1 L1690.8 1523.4 L1697.9 1519.1 L1694.6 1524.3 L1693.2 1533.5 L1688.0 1533.5 Z" style="stroke-width:0;fill:#fff;"/>
<path d="M1696.5 1532.8 L1700.3 1522.4 L1701.0 1522.9 L1697.4 1533.3 Z" style="stroke-width:0;fill:#fff;"/>
<path d="M1696.3 1541.8 L1697.5 1540.9 L1697.5 1547.5 L1696.3 1546.1 Z" style="stroke-width:0;fill:#fff;"/>
<path d="M1718.3 1515.3 L1719.7 1515.1 L1725.8 1523.4 L1724.9 1523.9 Z" style="stroke-width:0;fill:#fff;"/>
<path d="M1722.0 1512.0 L1723.5 1511.8 L1730.6 1522.9 L1729.1 1523.4 Z" style="stroke-width:0;fill:#fff;"/>
<path d="M2015.8 1167.3 C2019.5 1172.2 2031.1 1189.9 2038.4 1196.6 C2045.7 1203.2 2053.2 1204.8 2059.7 1207.2 C2066.1 1209.7 2074.1 1210.5 2077.0 1211.2"/>
<path d="M2022.4 1163.3 C2026.0 1167.7 2036.2 1183.7 2043.7 1189.9 C2051.2 1196.1 2062.3 1198.6 2067.7 1200.6 C2073.0 1202.6 2074.3 1201.7 2075.6 1201.9"/>
<path d="M2010.4 1166.0 L2038.4 1150.0"/>
<path d="M2065.0 1200.6 C2066.3 1199.9 2069.9 1197.2 2073.0 1196.6 C2076.1 1195.9 2081.2 1194.8 2083.6 1196.6 C2086.1 1198.3 2087.6 1203.2 2087.6 1207.2 C2087.6 1211.2 2083.0 1216.3 2083.6 1220.5 C2084.3 1224.7 2088.5 1229.2 2091.6 1232.5 C2094.7 1235.8 2099.6 1239.6 2102.2 1240.5 C2104.9 1241.4 2106.7 1238.3 2107.6 1237.8"/>
<path d="M2070.3 1207.2 C2071.4 1206.5 2075.0 1202.8 2077.0 1203.2 C2079.0 1203.7 2081.8 1206.8 2082.3 1209.9 C2082.7 1213.0 2078.5 1217.6 2079.6 1221.9 C2080.7 1226.1 2085.4 1231.4 2088.9 1235.2 C2092.5 1238.9 2098.9 1242.9 2100.9 1244.5"/>
<path d="M2087.6 1207.2 C2091.4 1209.4 2105.6 1215.9 2110.2 1220.5 C2114.9 1225.2 2115.6 1229.2 2115.6 1235.2 C2115.6 1241.1 2113.3 1249.3 2110.2 1256.4 C2107.1 1263.5 2101.8 1270.6 2096.9 1277.7 C2092.0 1284.8 2087.2 1291.9 2081.0 1299.0 C2074.7 1306.1 2065.9 1314.5 2059.7 1320.3 C2053.5 1326.1 2047.6 1330.6 2043.7 1333.6 C2039.8 1336.7 2037.7 1337.8 2036.5 1338.7"/>
<path d="M2094.3 1216.5 C2096.3 1218.3 2103.6 1223.6 2106.2 1227.2 C2108.9 1230.7 2110.2 1232.9 2110.2 1237.8 C2110.2 1242.7 2108.9 1249.8 2106.2 1256.4 C2103.6 1263.1 2098.9 1270.6 2094.3 1277.7 C2089.6 1284.8 2084.1 1291.0 2078.3 1299.0 C2072.5 1307.0 2064.5 1319.2 2059.7 1325.6 C2054.8 1332.1 2051.4 1335.3 2049.0 1337.6 C2046.6 1339.9 2045.9 1339.2 2045.3 1339.5"/>
<path d="M2031.7 1229.8 C2034.6 1230.1 2042.6 1229.2 2049.0 1231.2 C2055.5 1233.2 2064.5 1238.3 2070.3 1241.8 C2076.1 1245.4 2081.4 1250.7 2083.6 1252.5"/>
<path d="M2027.7 1213.9 C2031.7 1214.1 2045.9 1215.9 2051.7 1215.2 C2057.5 1214.5 2060.6 1210.8 2062.3 1209.9"/>
<path d="M2014.4 1171.3 C2016.6 1177.5 2023.3 1194.4 2027.7 1208.5 C2032.2 1222.7 2037.9 1244.0 2041.0 1256.4 C2044.1 1268.9 2045.7 1274.6 2046.4 1283.1 C2047.0 1291.5 2045.3 1303.0 2045.0 1307.0"/>
<path d="M2045.0 1307.0 L2051.7 1312.3 L2065.0 1304.3 L2083.6 1285.7"/>
<path d="M2083.6 1285.7 C2085.2 1283.5 2090.5 1277.3 2092.9 1272.4 C2095.4 1267.5 2097.4 1259.1 2098.3 1256.4"/>
<path d="M2057.0 1254.3 C2056.7 1255.5 2054.7 1259.2 2055.1 1261.2 C2055.6 1263.2 2058.9 1265.4 2059.7 1266.3"/>
<path d="M2055.7 1260.4 C2056.8 1259.3 2060.1 1254.5 2062.3 1253.8 C2064.5 1253.1 2067.7 1254.9 2069.0 1256.4 C2070.3 1258.0 2070.1 1262.0 2070.3 1263.1"/>
<path d="M2078.3 1251.1 L2083.6 1252.5 L2081.0 1261.8 L2096.9 1255.1 L2095.6 1267.1 L2083.6 1264.4 Z" style="stroke-width:5;"/>
<path d="M2086.3 1241.8 L2090.3 1247.1" style="stroke-width:4;"/>
<path d="M2075.6 1256.4 L2083.6 1285.7"/>
<path d="M2115.6 1241.8 C2121.3 1243.1 2139.9 1246.0 2150.1 1249.8 C2160.3 1253.6 2170.6 1260.0 2176.8 1264.4 C2182.9 1268.9 2185.5 1272.4 2186.9 1276.4 C2188.2 1280.4 2186.6 1283.9 2184.7 1288.4 C2182.8 1292.8 2178.5 1300.4 2175.4 1303.0 C2172.3 1305.7 2171.0 1305.7 2166.1 1304.3 C2161.2 1303.0 2149.5 1296.6 2146.2 1295.0"/>
<path d="M2112.9 1249.8 C2118.7 1251.1 2137.7 1254.5 2147.5 1257.8 C2157.2 1261.1 2166.1 1266.0 2171.4 1269.8 C2176.8 1273.5 2179.4 1276.2 2179.4 1280.4 C2179.4 1284.6 2174.1 1292.4 2171.4 1295.0 C2168.8 1297.7 2167.0 1297.5 2163.5 1296.4 C2159.9 1295.3 2152.4 1289.7 2150.1 1288.4"/>
<path d="M2106.2 1271.1 L2126.2 1280.4"/>
<path d="M2107.6 1275.1 C2109.8 1276.0 2116.0 1277.7 2120.9 1280.4 C2125.8 1283.1 2133.3 1287.9 2136.8 1291.0 C2140.4 1294.1 2141.1 1296.4 2142.2 1299.0 C2143.3 1301.7 2143.3 1305.7 2143.5 1307.0"/>
<path d="M2126.2 1273.7 L2136.8 1275.1 L2151.5 1281.7 L2150.1 1288.4 L2140.8 1285.7 L2126.2 1277.7 Z" style="stroke-width:4;"/>
<path d="M2140.8 1285.7 L2142.2 1299.0"/>
<path d="M2120.9 1277.2 L2134.2 1288.4" style="stroke-width:5;"/>
<path d="M2049.0 1323.0 L2059.7 1316.3" style="stroke-width:5;"/>
<ellipse cx="1946.5" cy="1686.9" rx="35.0" ry="22.5"/>
<ellipse cx="1946.5" cy="1686.9" rx="24.1" ry="12.3"/>
<ellipse cx="1947.0" cy="1929.4" rx="34.3" ry="22.5"/>
<ellipse cx="1947.0" cy="1929.4" rx="23.7" ry="11.8"/>
<path d="M1946.5 1716.5 L1946.5 1764.3"/>
<path d="M1946.5 1878.5 L1946.5 1929.4"/>
<ellipse cx="1946.5" cy="1763.1" rx="23.7" ry="13.2"/>
<ellipse cx="1946.5" cy="1764.3" rx="18.0" ry="10.4"/>
<path d="M1922.5 1763.1 L1922.5 1783.2"/>
<path d="M1970.5 1763.1 L1970.5 1783.2"/>
<path d="M1922.9 1783.2 C1924.5 1784.6 1928.8 1789.8 1932.8 1791.5 C1936.7 1793.2 1941.8 1793.3 1946.5 1793.2 C1951.2 1793.0 1957.2 1792.4 1961.2 1790.8 C1965.1 1789.1 1968.7 1784.5 1970.2 1783.2"/>
<path d="M1921.0 1769.0 C1920.2 1770.2 1916.8 1773.4 1916.2 1776.1 C1915.6 1778.9 1915.4 1782.4 1917.4 1785.6 C1919.4 1788.7 1923.2 1792.9 1928.1 1795.0 C1932.9 1797.2 1940.2 1798.5 1946.5 1798.6 C1952.8 1798.7 1960.9 1797.5 1965.9 1795.5 C1970.9 1793.5 1974.4 1789.8 1976.6 1786.8 C1978.7 1783.7 1979.5 1780.3 1978.9 1777.3 C1978.3 1774.3 1974.0 1770.4 1973.0 1769.0"/>
<path d="M1912.7 1783.2 C1912.1 1784.4 1909.3 1787.6 1909.1 1790.3 C1909.0 1793.1 1911.5 1798.2 1912.0 1799.8"/>
<path d="M1908.7 1797.4 C1910.3 1799.4 1912.6 1806.1 1918.6 1809.2 C1924.6 1812.4 1936.3 1815.9 1944.6 1816.3 C1952.9 1816.8 1962.4 1814.8 1968.3 1812.1 C1974.1 1809.3 1977.7 1801.8 1979.6 1799.8" style="stroke-width:6;"/>
<path d="M1978.9 1777.3 L1979.6 1799.8"/>
<path d="M1907.5 1785.6 L1907.5 1823.4 L1890.7 1837.6 L1892.1 1844.2 L1909.1 1845.9 L1928.1 1854.2 L1938.7 1864.8 L1945.8 1863.6 L1965.9 1844.7"/>
<path d="M1892.6 1842.4 L1909.1 1842.8 L1929.2 1850.6 L1939.9 1861.3 L1944.6 1860.8 L1964.7 1843.5" style="stroke-width:4;"/>
<path d="M1965.9 1844.7 C1968.3 1843.9 1976.7 1842.7 1980.1 1840.0 C1983.5 1837.2 1985.0 1832.7 1986.0 1828.2 C1987.0 1823.6 1986.0 1815.3 1986.0 1812.8"/>
<path d="M1977.7 1808.1 L1986.0 1812.8"/>
<path d="M1982.5 1790.3 C1984.8 1789.9 1991.5 1790.1 1996.7 1787.9 C2001.8 1785.8 2010.5 1779.1 2013.2 1777.3"/>
<path d="M2013.2 1777.3 L2025.0 1776.1 L2033.5 1782.0 L2033.5 1823.4 L2001.4 1851.8 L1996.7 1850.6"/>
<path d="M1996.5 1850.6 L1996.5 1818.7 L1996.7 1818.7 C1996.3 1817.5 1995.7 1813.4 1994.3 1811.6 C1992.9 1809.8 1990.9 1808.6 1988.4 1808.1 C1985.8 1807.5 1980.5 1808.1 1978.9 1808.1"/>
<path d="M1978.9 1808.1 L2015.6 1778.5" style="stroke-width:5;"/>
<path d="M2025.0 1790.3 C2024.7 1792.7 2022.7 1798.6 2022.7 1804.5 C2022.7 1810.4 2024.7 1822.2 2025.0 1825.8"/>
<path d="M2033.3 1782.0 L2026.2 1790.3"/>
<path d="M1987.2 1823.4 C1988.0 1823.6 1990.4 1825.0 1991.9 1824.6 C1993.4 1824.2 1995.5 1821.7 1996.2 1821.1"/>
<path d="M2025.0 1825.8 L2033.3 1823.4"/>
<path d="M2012.0 1620.0 C2013.2 1626.3 2017.0 1644.8 2019.1 1657.8 C2021.3 1670.9 2024.1 1683.9 2025.0 1698.1 C2026.0 1712.3 2024.3 1733.9 2025.0 1743.0 C2025.8 1752.1 2027.4 1750.2 2029.8 1752.5 C2032.1 1754.8 2035.3 1756.3 2039.2 1756.7 C2043.2 1757.1 2050.3 1754.4 2053.4 1754.8 C2056.6 1755.3 2057.2 1756.8 2058.2 1759.6 C2059.1 1762.3 2059.1 1766.7 2059.3 1771.4 C2059.5 1776.1 2059.3 1785.2 2059.3 1787.9"/>
<path d="M2019.1 1620.0 C2020.3 1625.9 2024.1 1643.7 2026.2 1655.5 C2028.4 1667.3 2031.0 1676.8 2032.1 1691.0 C2033.3 1705.2 2032.5 1731.4 2033.3 1740.6 C2034.1 1749.9 2035.3 1745.2 2036.9 1746.6 C2038.4 1747.9 2039.2 1748.9 2042.8 1748.9 C2046.3 1748.9 2054.6 1746.0 2058.2 1746.6 C2061.7 1747.1 2062.7 1749.5 2064.1 1752.5 C2065.5 1755.4 2066.0 1758.6 2066.4 1764.3 C2066.8 1770.0 2066.4 1783.0 2066.4 1786.8"/>
<path d="M2052.5 1789.1 L2052.5 1871.9 L2060.5 1875.5 L2072.4 1874.3 L2073.1 1785.6 L2053.0 1789.1" style="stroke-width:4;"/>
<path d="M2055.3 1797.4 C2056.8 1797.2 2061.3 1797.6 2064.1 1796.2 C2066.8 1794.8 2070.6 1790.3 2071.9 1789.1" style="stroke-width:5;"/>
<path d="M2055.8 1830.5 C2057.2 1830.3 2061.3 1830.7 2064.1 1829.3 C2066.8 1828.0 2071.0 1823.4 2072.4 1822.2" style="stroke-width:4;"/>
<path d="M2072.4 1828.2 L2078.5 1835.3 L2078.5 1870.5 L2072.4 1870.5" style="stroke-width:4;"/>
<path d="M2058.5 1832.9 L2058.5 1841.2 L2062.9 1843.5 L2072.4 1842.4"/>
<path d="M2074.5 1837.6 L2074.5 1869.6" style="stroke-width:5;"/>
<path d="M2087.5 2011.7 C2091.9 2013.2 2106.2 2015.4 2114.1 2020.6 C2122.0 2025.8 2129.6 2034.2 2134.8 2042.8 C2140.0 2051.4 2143.4 2067.4 2145.2 2072.4 L2145.5 2072.4 L2145.5 2249.8 L2145.2 2249.8 C2143.4 2254.7 2141.5 2269.5 2134.8 2279.3 C2128.2 2289.2 2117.6 2300.5 2105.3 2308.9 C2092.9 2317.3 2072.7 2324.9 2060.9 2329.6 C2049.1 2334.3 2040.2 2337.7 2034.3 2337.0 C2028.4 2336.3 2026.9 2327.1 2025.4 2325.2"/>
<path d="M2090.5 2016.8 C2093.9 2018.1 2104.5 2019.5 2111.2 2024.5 C2117.8 2029.4 2125.5 2038.1 2130.4 2046.3 C2135.3 2054.6 2139.0 2069.3 2140.7 2073.8"/>
<path d="M2139.5 2273.4 L2139.5 2360.1"/>
<path d="M1833.2 2099.0 L1824.5 2100.4 L1824.5 2263.1 L1833.2 2267.5"/>
<path d="M1834.5 2101.9 L1834.5 2360.1"/>
<path d="M1833.2 2099.0 L1839.1 2089.5 L1905.7 2038.4 L1933.8 2029.5"/>
<path d="M1839.1 2096.0 L1907.1 2042.8 L1936.7 2033.3"/>
<path d="M1954.5 2007.3 C1956.9 2006.1 1961.4 2002.1 1969.2 1999.9 C1977.1 1997.7 1993.4 1995.5 2001.8 1994.0 C2010.1 1992.5 2015.1 1991.0 2019.5 1991.0 C2023.9 1991.0 2026.9 1993.5 2028.4 1994.0"/>
<path d="M2028.4 1994.0 L2040.2 1997.8 L2052.0 1994.9 L2065.5 1998.4 L2065.5 2013.2"/>
<path d="M2040.2 2004.4 L2055.0 2001.4 L2056.5 2010.9"/>
<path d="M2044.6 2007.3 L2052.0 2005.8"/>
<path d="M2040.2 2004.4 L2081.6 2026.5"/>
<path d="M2065.3 2013.2 L2087.5 2023.6"/>
<path d="M2083.1 2016.2 L2087.5 2011.7 L2094.0 2014.7 L2090.5 2023.5 L2083.5 2023.5 L2083.5 2016.2"/>
<path d="M2087.5 2023.6 L2063.9 2038.4"/>
<path d="M1888.5 2134.5 L1888.5 2360.1"/>
<path d="M1907.5 2149.2 L1907.5 2360.1"/>
<path d="M2016.5 2164.0 L2016.5 2341.4" style="stroke-width:4;"/>
<path d="M2020.5 2164.0 L2020.5 2341.4"/>
<path d="M1896.5 2357.7 L1896.5 2360.1" style="stroke-width:5;"/>
<path d="M1907.7 2149.2 C1914.0 2151.5 1934.8 2159.8 1945.6 2162.5 C1956.3 2165.3 1963.3 2165.5 1972.2 2165.5 C1981.1 2165.5 1990.9 2162.8 1998.8 2162.5 C2006.7 2162.3 2011.6 2165.3 2019.5 2164.0 C2027.4 2162.8 2036.8 2158.4 2046.1 2155.2 C2055.5 2151.9 2065.8 2149.0 2075.7 2144.8 C2085.5 2140.6 2100.3 2132.5 2105.3 2130.0"/>
<path d="M1945.6 2164.0 C1950.0 2163.6 1963.3 2162.5 1972.2 2161.7 C1981.1 2160.8 1994.4 2159.2 1998.8 2158.7"/>
<path d="M1839.1 2099.0 C1840.6 2100.9 1843.6 2106.6 1848.0 2110.8 C1852.4 2115.0 1860.8 2122.1 1865.7 2124.1 C1870.7 2126.1 1874.1 2123.6 1877.6 2122.6 C1881.0 2121.6 1885.0 2118.9 1886.4 2118.2"/>
<path d="M1849.5 2107.8 L1860.5 2103.4 L1860.5 2118.2"/>
<path d="M1877.6 2127.1 L1883.5 2119.7 L1942.6 2140.4 L1941.1 2155.2 L1932.3 2149.2"/>
<path d="M1882.0 2127.7 L1927.8 2145.7 L1933.8 2141.8 L1887.0 2123.5"/>
<path d="M1877.6 2127.1 L1882.0 2134.5 L1888.8 2135.9"/>
<path d="M1932.3 2149.2 L1907.7 2140.4"/>
<path d="M1964.5 2029.5 L1964.5 2161.1"/>
<path d="M1973.5 2029.5 L1973.5 2161.1"/>
<ellipse cx="1978.7" cy="2022.7" rx="21.3" ry="15.4" transform="rotate(-10.0 1978.7 2022.7)" style="stroke-width:4;"/>
<path d="M1973.7 2023.6 C1973.9 2022.1 1973.4 2016.4 1975.2 2014.7 C1976.9 2013.0 1980.8 2012.5 1984.0 2013.2 C1987.2 2014.0 1993.9 2016.9 1994.4 2019.1 C1994.9 2021.4 1989.9 2024.8 1987.0 2026.5 C1984.0 2028.3 1978.4 2029.0 1976.6 2029.5"/>
<ellipse cx="1901.2" cy="1998.4" rx="15.4" ry="17.7" transform="rotate(-30.0 1901.2 1998.4)" style="stroke-width:4;"/>
<ellipse cx="1902.1" cy="1999.3" rx="6.5" ry="10.6" transform="rotate(-30.0 1902.1 1999.3)" style="stroke-width:4;"/>
<path d="M1914.5 2010.3 L1927.8 2016.2"/>
<path d="M1917.5 1991.9 L1945.6 2007.3"/>
<path d="M1926.5 2011.7 L1926.5 2020.6 L1942.6 2029.5 L1944.1 2019.1 L1926.4 2011.7"/>
<path d="M1942.6 2019.1 L1945.6 2010.3 L1957.4 2017.7 L1954.5 2038.4 L1942.6 2031.0"/>
<path d="M1945.5 2010.3 L1945.5 2031.0"/>
<ellipse cx="1944.1" cy="2065.0" rx="29.6" ry="17.7"/>
<ellipse cx="1946.2" cy="2062.0" rx="17.7" ry="10.3"/>
<path d="M1914.5 2067.9 L1914.5 2090.1"/>
<path d="M1914.5 2090.1 C1916.8 2091.6 1922.7 2097.1 1927.8 2099.0 C1933.0 2100.8 1939.4 2101.3 1945.6 2101.3 C1951.7 2101.3 1961.6 2099.4 1964.8 2099.0"/>
<path d="M1911.5 2087.1 L1911.5 2107.8"/>
<path d="M1911.6 2107.8 C1914.3 2108.7 1922.2 2112.1 1927.8 2113.2 C1933.5 2114.2 1939.4 2114.5 1945.6 2114.3 C1951.7 2114.2 1961.6 2112.6 1964.8 2112.3"/>
<path d="M1924.9 2072.4 C1926.4 2073.6 1929.3 2078.0 1933.8 2079.8 C1938.2 2081.5 1946.3 2082.7 1951.5 2082.7 C1956.7 2082.7 1962.6 2080.2 1964.8 2079.8"/>
<path d="M1886.4 2116.7 C1886.7 2113.8 1886.0 2104.4 1887.9 2099.0 C1889.9 2093.6 1894.6 2087.9 1898.3 2084.2 C1902.0 2080.5 1908.1 2078.0 1910.1 2076.8"/>
<path d="M1893.8 2116.7 C1894.3 2114.2 1894.6 2106.4 1896.8 2101.9 C1899.0 2097.5 1905.4 2092.1 1907.1 2090.1"/>
<path d="M1895.3 2113.8 L1907.7 2101.9"/>
<path d="M1907.5 2096.0 L1907.5 2125.6"/>
<path d="M2003.5 1998.4 L2003.5 2063.5"/>
<path d="M2029.5 2004.4 L2029.5 2078.3"/>
<path d="M2056.5 2045.7 L2056.5 2116.7"/>
<path d="M2060.5 2060.5 L2060.5 2116.7"/>
<path d="M2056.5 2045.7 C2057.7 2044.3 2058.2 2039.3 2063.9 2036.9 C2069.5 2034.4 2084.3 2033.2 2090.5 2031.0 C2096.6 2028.7 2099.1 2024.8 2100.8 2023.6"/>
<path d="M2065.3 2048.7 C2067.1 2050.9 2071.0 2058.8 2075.7 2062.0 C2080.4 2065.2 2086.0 2066.2 2093.4 2067.9 C2100.8 2069.6 2112.4 2072.4 2120.0 2072.4 C2127.7 2072.4 2136.1 2068.7 2139.3 2067.9"/>
<path d="M2072.7 2063.5 C2077.2 2065.2 2092.4 2069.4 2099.3 2073.8 C2106.2 2078.3 2111.7 2084.9 2114.1 2090.1 C2116.6 2095.3 2116.6 2100.9 2114.1 2104.9 C2111.7 2108.8 2105.7 2111.3 2099.3 2113.8 C2092.9 2116.2 2083.1 2118.4 2075.7 2119.7 C2068.3 2120.9 2060.9 2122.1 2055.0 2121.1 C2049.1 2120.2 2042.7 2115.0 2040.2 2113.8"/>
<path d="M2134.8 2045.7 C2134.3 2048.2 2134.3 2056.3 2131.9 2060.5 C2129.4 2064.7 2122.0 2069.2 2120.0 2070.9"/>
<path d="M2139.3 2069.4 C2138.5 2072.9 2138.0 2084.2 2134.8 2090.1 C2131.6 2096.0 2124.0 2100.9 2120.0 2104.9 C2116.1 2108.8 2113.4 2109.6 2111.2 2113.8 C2108.9 2117.9 2107.5 2127.3 2106.7 2130.0"/>
<path d="M2063.9 2051.7 C2064.6 2053.1 2066.8 2058.5 2068.3 2060.5 C2069.8 2062.6 2072.0 2063.5 2072.7 2064.1"/>
<path d="M1978.1 2101.9 L2022.5 2076.8"/>
<path d="M2022.5 2076.8 C2023.9 2077.0 2028.4 2076.5 2031.3 2078.3 C2034.3 2080.0 2038.0 2082.2 2040.2 2087.1 C2042.4 2092.1 2044.1 2103.2 2044.6 2107.8 C2045.1 2112.5 2043.4 2114.0 2043.2 2115.2"/>
<path d="M1984.0 2101.3 L2020.1 2075.9"/>
<path d="M2022.5 2090.1 L2023.9 2110.8"/>
<path d="M2016.5 2119.7 L2040.2 2113.8"/>
<path d="M2016.5 2121.1 L2031.3 2155.2"/>
<path d="M2040.2 2115.2 C2042.9 2116.2 2050.5 2117.5 2056.5 2121.1 C2062.4 2124.8 2072.0 2134.0 2075.7 2137.4 C2079.4 2140.9 2078.1 2141.1 2078.6 2141.8"/>
<path d="M2105.5 2113.8 L2105.5 2131.5 L2078.6 2140.4"/>
<path d="M2075.7 2137.4 L2081.6 2136.8"/>
<path d="M1987.0 2072.4 C1988.5 2071.6 1992.4 2068.2 1995.8 2067.9 C1999.3 2067.7 2004.7 2069.4 2007.7 2070.9 C2010.6 2072.4 2012.6 2075.8 2013.6 2076.8"/>
<path d="M1988.5 2078.3 C1989.7 2077.5 1993.1 2074.3 1995.8 2073.8 C1998.6 2073.3 2003.2 2075.1 2004.7 2075.3"/>
<path d="M1975.2 2062.0 C1979.1 2061.8 1990.9 2059.3 1998.8 2060.5 C2006.7 2061.8 2016.1 2066.0 2022.5 2069.4 C2028.9 2072.9 2034.8 2079.3 2037.2 2081.2"/>
<path d="M1979.6 2110.8 C1983.8 2112.8 1998.6 2118.2 2004.7 2122.6 C2010.9 2127.1 2013.8 2132.0 2016.5 2137.4 C2019.3 2142.8 2020.2 2152.2 2021.0 2155.2"/>
<path d="M1976.6 2115.2 C1980.8 2117.5 1995.8 2124.1 2001.8 2128.5 C2007.7 2133.0 2009.9 2137.2 2012.1 2141.8 C2014.3 2146.5 2014.6 2154.2 2015.1 2156.6"/>
<path d="M1990.5 2121.1 L1990.5 2155.2" style="stroke-width:5;"/>
<path d="M1997.5 2124.1 L1997.5 2155.2"/>
<path d="M2006.5 2131.5 L2006.5 2152.2"/>
<path d="M1945.6 2162.5 L1964.8 2149.2"/>
<path d="M1950.0 2164.0 L1969.2 2150.7"/>
<path d="M1978.1 2140.4 L1978.7 2152.2" style="stroke-width:4;"/>
<path d="M1982.5 2258.6 L1997.3 2258.0 L2003.2 2251.2 L2007.7 2257.2 L2016.5 2255.7"/>
<path d="M2019.5 2246.8 L2043.2 2245.3"/>
<path d="M2023.9 2251.2 C2023.7 2254.9 2023.2 2267.8 2022.5 2273.4 C2021.7 2279.1 2020.0 2283.3 2019.5 2285.3"/>
<path d="M2013.6 2205.4 C2013.3 2208.9 2011.9 2219.7 2012.1 2226.1 C2012.4 2232.5 2014.6 2240.9 2015.1 2243.9" style="stroke-width:4;"/>
<path d="M1834.5 2300.0 L1834.5 2501.1 L1839.1 2512.9 L1859.8 2529.5 L1865.7 2529.5 L1882.5 2517.3 L1882.5 2508.5"/>
<path d="M1889.5 2300.0 L1889.5 2360.6"/>
<path d="M1870.2 2360.6 C1871.4 2361.6 1875.1 2365.4 1877.6 2366.5 C1880.0 2367.7 1883.0 2368.4 1885.0 2367.4 C1886.9 2366.4 1888.7 2361.7 1889.4 2360.6"/>
<path d="M1889.4 2360.6 L1886.4 2371.0 L1885.9 2436.0 L1877.6 2444.9"/>
<path d="M1877.6 2444.9 C1876.1 2445.4 1871.3 2447.9 1868.7 2447.8 C1866.1 2447.7 1863.3 2444.9 1862.2 2444.3"/>
<path d="M1877.6 2444.9 L1876.1 2507.0 L1919.0 2524.7"/>
<path d="M1907.5 2300.0 L1907.5 2379.8 L1918.5 2384.3 L1918.5 2468.5 L1927.5 2474.5 L1927.5 2557.2"/>
<path d="M1895.3 2359.1 L1907.7 2365.1"/>
<path d="M1919.0 2487.8 L1899.8 2478.9 L1899.8 2478.9 C1899.0 2480.6 1895.8 2484.6 1895.3 2489.2 C1894.8 2493.9 1896.5 2504.0 1896.8 2507.0 L1896.8 2507.0 L1919.0 2518.8"/>
<path d="M1918.5 2473.0 L1918.5 2527.7 L1926.4 2529.2"/>
<path d="M1919.0 2502.5 L1921.9 2502.5" style="stroke-width:5;"/>
<path d="M1927.8 2557.2 C1932.8 2558.5 1946.6 2563.2 1957.4 2564.6 C1968.3 2566.1 1987.0 2565.9 1992.9 2566.1 L1992.9 2566.1 L1997.3 2563.2 L2023.5 2543.9 L2023.5 2498.1 L2052.0 2475.9 L2057.5 2477.4 L2057.5 2515.8 L2075.5 2501.1 L2075.5 2461.1 L2080.1 2453.8 L2094.9 2443.4"/>
<path d="M2028.5 2536.5 L2028.5 2501.1 L2052.0 2481.8"/>
<path d="M2028.4 2515.8 L2052.0 2499.6"/>
<path d="M2052.5 2481.8 L2052.5 2512.9 L2056.5 2517.3 L2057.9 2515.8"/>
<path d="M2078.6 2474.5 L2097.9 2459.7"/>
<path d="M2139.5 2300.0 L2139.5 2458.2"/>
<path d="M2139.3 2458.2 C2138.5 2459.4 2138.0 2462.9 2134.8 2465.6 C2131.6 2468.3 2126.2 2472.0 2120.0 2474.5 C2113.9 2476.9 2101.6 2479.4 2097.9 2480.4"/>
<path d="M2019.5 2300.0 L2019.5 2341.4"/>
<path d="M2019.5 2341.4 C2020.5 2342.6 2014.1 2349.4 2025.4 2348.8 C2036.8 2348.2 2074.7 2338.6 2087.5 2337.8 C2100.3 2337.1 2098.6 2340.8 2102.3 2344.4 C2106.0 2347.9 2108.0 2353.5 2109.7 2359.1 C2111.4 2364.8 2112.2 2375.2 2112.6 2378.4"/>
<path d="M1982.5 2345.8 L2010.6 2344.9 L2016.5 2341.4"/>
<path d="M2010.6 2345.8 C2011.6 2347.3 2014.1 2352.5 2016.5 2354.7 C2019.0 2356.9 2021.5 2358.4 2025.4 2359.1 C2029.4 2359.9 2029.6 2360.9 2040.2 2359.1 C2050.8 2357.4 2079.4 2348.8 2089.0 2348.8 C2098.6 2348.8 2095.6 2354.0 2097.9 2359.1 C2100.1 2364.3 2101.6 2376.4 2102.3 2379.8"/>
<path d="M2097.5 2379.8 L2097.5 2418.3 L2102.3 2421.2 L2117.1 2413.8 L2118.6 2378.4 L2111.2 2381.3 L2097.9 2379.8" style="stroke-width:4;"/>
<path d="M2100.8 2388.7 C2102.5 2388.5 2108.5 2388.2 2111.2 2387.2 C2113.9 2386.2 2116.1 2383.5 2117.1 2382.8" style="stroke-width:5;"/>
<path d="M2100.5 2424.2 L2100.5 2464.1 L2114.1 2465.6 L2115.6 2436.0"/>
<path d="M2100.8 2430.1 C2101.6 2431.3 2102.8 2436.5 2105.3 2437.5 C2107.7 2438.5 2113.9 2436.3 2115.6 2436.0"/>
<path d="M2117.1 2418.3 L2122.5 2427.1 L2122.5 2461.1" style="stroke-width:5;"/>
<path d="M2102.3 2421.2 L2100.8 2425.7"/>
<path d="M2094.5 2443.4 L2094.5 2478.9 L2097.9 2480.4"/>
<path d="M2100.5 2465.6 L2100.5 2477.4"/>
<path d="M2106.5 2467.1 L2106.5 2477.4"/>
<path d="M1945.5 2584.4 L1945.5 2682.9"/>
<ellipse cx="1945.4" cy="2685.1" rx="29.6" ry="16.6"/>
<ellipse cx="1945.4" cy="2683.4" rx="36.7" ry="20.8"/>
<path d="M1908.5 2683.9 L1908.5 2733.5"/>
<path d="M1982.5 2683.9 L1982.5 2731.2"/>
<path d="M1908.7 2733.5 C1910.9 2735.9 1915.6 2744.6 1921.7 2747.7 C1927.8 2750.9 1937.5 2752.5 1945.4 2752.5 C1953.3 2752.5 1962.9 2751.3 1969.0 2747.7 C1975.1 2744.2 1979.9 2733.9 1982.0 2731.2"/>
<ellipse cx="1923.4" cy="2725.7" rx="4.7" ry="3.1" transform="rotate(20.0 1923.4 2725.7)" style="fill:#000;"/>
<ellipse cx="1978.0" cy="2718.2" rx="1.9" ry="4.3" style="fill:#000;"/>
<path d="M1982.0 2685.1 L1990.3 2682.0 L1995.5 2685.1 L1995.5 2721.7 L1983.2 2730.0"/>
<path d="M1906.3 2711.1 C1904.2 2712.8 1896.1 2718.4 1893.3 2721.7 C1890.6 2725.1 1890.2 2727.2 1889.8 2731.2 C1889.4 2735.1 1889.6 2741.8 1891.0 2745.4 C1892.3 2748.9 1896.9 2751.3 1898.1 2752.5"/>
<path d="M1898.1 2752.5 L1938.3 2770.2 L1947.7 2771.4 L1985.6 2759.6"/>
<path d="M1985.6 2759.6 C1987.6 2757.6 1995.0 2752.5 1997.4 2747.7 C1999.9 2743.0 2000.4 2735.7 2000.2 2731.2 C2000.1 2726.6 1996.9 2722.3 1996.2 2720.5"/>
<path d="M1893.3 2740.6 L1900.4 2745.4 L1938.3 2761.9 L1948.9 2763.1 L1983.2 2753.6 L1995.0 2743.0"/>
<path d="M1935.9 2663.8 C1931.6 2666.7 1919.0 2674.6 1909.9 2681.5 C1900.8 2688.4 1888.6 2696.9 1881.5 2705.2 C1874.4 2713.4 1870.7 2721.7 1867.3 2731.2 C1864.0 2740.6 1862.5 2753.6 1861.4 2761.9 C1860.3 2770.2 1860.8 2777.7 1860.7 2780.9"/>
<path d="M1860.7 2780.9 L1867.3 2785.6 L1954.8 2823.4 L2016.3 2808.1 L2025.8 2806.9"/>
<path d="M1863.8 2734.7 L1848.4 2748.9 L1845.5 2761.9 L1860.2 2770.2"/>
<path d="M1881.5 2743.0 C1879.7 2743.8 1873.8 2745.4 1870.9 2747.7 C1867.9 2750.1 1864.9 2755.6 1863.8 2757.2"/>
<path d="M1935.9 2663.8 C1938.7 2662.8 1944.2 2658.8 1952.5 2657.8 C1960.7 2656.9 1972.2 2656.3 1985.6 2657.8 C1999.0 2659.4 2019.1 2663.0 2032.9 2667.3 C2046.7 2671.6 2057.3 2677.6 2068.4 2683.9 C2079.4 2690.2 2091.4 2699.6 2099.1 2705.2 C2106.8 2710.7 2111.9 2715.0 2114.5 2717.0"/>
<path d="M1971.4 2655.5 C1977.7 2656.7 1997.0 2659.4 2009.2 2662.6 C2021.5 2665.7 2032.9 2669.3 2044.7 2674.4 C2056.5 2679.5 2070.3 2686.6 2080.2 2693.3 C2090.1 2700.0 2099.9 2711.1 2103.9 2714.6"/>
<path d="M2114.5 2717.0 L2113.3 2720.5 L2101.5 2726.4"/>
<path d="M2103.9 2714.6 L2101.5 2724.1"/>
<path d="M2089.7 2719.3 C2093.4 2719.0 2096.0 2719.7 2097.9 2721.7 C2099.9 2723.7 2102.5 2726.1 2101.5 2731.2 C2100.5 2736.3 2097.5 2745.0 2092.0 2752.5 C2086.5 2760.0 2077.4 2768.2 2068.4 2776.1 C2059.3 2784.0 2045.5 2794.7 2037.6 2799.8 C2029.7 2804.9 2025.2 2806.1 2021.1 2806.9 C2016.9 2807.7 2014.4 2807.3 2012.8 2804.5 C2011.2 2801.7 2010.6 2795.4 2011.6 2790.3 C2012.6 2785.2 2015.2 2778.9 2018.7 2773.8 C2022.2 2768.6 2023.4 2767.8 2032.9 2759.6 C2042.4 2751.3 2066.0 2730.8 2075.5 2724.1 C2084.9 2717.4 2085.9 2719.7 2089.7 2719.3 Z" style="stroke-width:4;"/>
<path d="M2087.3 2718.9 C2084.5 2720.1 2080.6 2719.7 2070.7 2726.4 C2060.9 2733.2 2037.6 2751.3 2028.2 2759.6 C2018.7 2767.8 2017.3 2771.0 2014.0 2776.1 C2010.6 2781.2 2008.8 2785.2 2008.1 2790.3 C2007.3 2795.4 2009.0 2804.1 2009.2 2806.9"/>
<path d="M1957.2 2776.1 C1956.8 2778.5 1955.2 2782.4 1954.8 2790.3 C1954.4 2798.2 1954.8 2817.9 1954.8 2823.4"/>
<path d="M1954.8 2809.2 L2006.9 2796.2"/>
<path d="M1957.2 2809.2 L1966.7 2815.2 L1985.6 2811.6 L2006.9 2797.4" style="stroke-width:4;"/>
<path d="M1966.7 2821.1 L2016.3 2809.2"/>
<ellipse cx="2097.9" cy="2825.3" rx="35.5" ry="23.2"/>
<path d="M2079.0 2821.1 C2080.0 2822.2 2081.8 2826.6 2084.9 2828.2 C2088.1 2829.7 2093.6 2830.5 2097.9 2830.5 C2102.3 2830.5 2107.8 2829.7 2111.0 2828.2 C2114.1 2826.6 2115.9 2822.2 2116.9 2821.1"/>
<path d="M2082.6 2823.9 C2085.1 2823.2 2092.6 2819.9 2097.9 2819.9 C2103.3 2819.9 2111.7 2823.2 2114.5 2823.9"/>
<path d="M2097.5 2867.2 L2097.5 2919.9"/>
<path d="M2097.5 2867.1 L2097.5 3017.1"/>
<path d="M2043.5 3250.1 L2043.5 2904.7 L2050.7 2898.8 L2091.2 2916.5 L2092.5 2923.9 L2092.5 2958.8"/>
<path d="M2046.9 2903.8 L2086.5 2921.0 L2086.5 3006.7"/>
<path d="M2086.2 2959.4 L2091.5 2963.8 L2091.5 3006.7"/>
<path d="M2043.1 2938.7 L2044.8 2944.6"/>
<path d="M2057.2 2925.4 C2058.6 2921.7 2061.8 2920.7 2064.6 2922.4 C2067.5 2924.2 2072.8 2930.8 2074.4 2935.7 C2076.0 2940.7 2075.8 2948.8 2074.4 2952.0 C2073.0 2955.2 2069.1 2956.2 2066.1 2955.0 C2063.2 2953.7 2058.1 2949.5 2056.7 2944.6 C2055.2 2939.7 2055.9 2929.1 2057.2 2925.4 Z" style="stroke-width:4;"/>
<path d="M2060.5 2927.5 L2060.5 2946.1 L2067.6 2953.5"/>
<path d="M2061.5 3250.1 L2061.5 2980.1 L2061.1 2980.1 C2061.7 2979.6 2063.2 2976.4 2064.6 2977.1 C2066.1 2977.9 2068.8 2983.3 2069.7 2984.5 L2069.5 2984.5 L2069.5 3250.1"/>
<ellipse cx="2097.2" cy="3019.1" rx="17.1" ry="10.3"/>
<path d="M2086.8 3008.2 C2085.6 3008.7 2081.9 3007.9 2079.4 3011.1 C2077.0 3014.4 2072.5 3022.0 2072.0 3027.4 C2071.5 3032.8 2075.7 3041.0 2076.5 3043.7 L2076.5 3043.7 C2079.7 3044.9 2089.0 3050.6 2095.7 3051.1 C2102.3 3051.6 2112.9 3047.4 2116.4 3046.6 L2116.4 3046.6 C2117.9 3043.9 2125.0 3036.0 2125.3 3030.4 C2125.5 3024.7 2120.8 3016.5 2117.9 3012.6 C2114.9 3008.8 2109.2 3008.2 2107.5 3007.3 L2107.5 3007.3 L2086.8 3008.2"/>
<path d="M2076.5 3043.7 L2076.5 3250.1"/>
<path d="M2118.5 3046.6 L2118.5 3250.1"/>
<path d="M2076.5 3059.9 C2077.7 3061.9 2080.2 3069.2 2083.9 3071.8 C2087.6 3074.3 2093.7 3075.6 2098.6 3075.3 C2103.6 3075.1 2110.1 3072.8 2113.4 3070.3 C2116.8 3067.7 2117.9 3061.7 2118.7 3059.9"/>
<path d="M2077.9 3055.5 C2080.9 3057.5 2089.0 3066.5 2095.7 3067.3 C2102.3 3068.2 2114.2 3061.7 2117.9 3060.5"/>
<path d="M1881.5 3250.1 L1881.5 3027.4 L1888.7 3021.5 L1927.1 3038.6 L1930.5 3043.7 L1930.5 3080.6 L1925.7 3086.5"/>
<path d="M1885.7 3026.5 L1922.5 3043.7 L1922.5 3250.1"/>
<path d="M1930.5 3086.5 L1930.5 3250.1"/>
<path d="M1922.7 3085.1 L1930.1 3080.6"/>
<path d="M1894.0 3048.1 C1895.4 3044.4 1899.1 3043.4 1902.0 3045.2 C1905.0 3046.9 1910.1 3053.3 1911.8 3058.5 C1913.4 3063.6 1913.1 3072.9 1911.8 3076.2 C1910.4 3079.5 1906.4 3079.7 1903.5 3078.3 C1900.5 3076.8 1895.6 3072.4 1894.0 3067.3 C1892.5 3062.3 1892.7 3051.8 1894.0 3048.1 Z" style="stroke-width:4;"/>
<path d="M1897.5 3049.6 L1897.5 3068.8 L1905.0 3077.1"/>
<path d="M1894.5 3250.1 L1894.5 3101.3 L1894.0 3101.3 C1895.1 3100.4 1897.9 3095.5 1900.5 3096.0 C1903.2 3096.5 1908.4 3102.9 1910.0 3104.3 L1909.5 3104.3 L1909.5 3250.1"/>
<path d="M2118.3 3397.8 C2125.7 3400.6 2148.8 3408.2 2162.5 3414.5 C2176.2 3420.9 2189.1 3428.1 2200.5 3435.8 C2211.9 3443.5 2222.2 3451.9 2230.9 3460.7 C2239.6 3469.5 2246.9 3479.0 2252.6 3488.5 C2258.3 3498.1 2262.8 3513.2 2264.9 3518.2"/>
<path d="M2264.9 3518.2 C2265.3 3523.0 2268.1 3537.6 2267.4 3547.2 C2266.7 3556.9 2264.5 3566.7 2260.8 3576.1 C2257.1 3585.5 2251.9 3594.9 2245.3 3603.8 C2238.8 3612.7 2230.7 3621.4 2221.5 3629.5 C2212.3 3637.5 2201.6 3645.3 2190.1 3652.3 C2178.5 3659.3 2165.6 3665.8 2152.0 3671.5 C2138.4 3677.1 2123.7 3682.2 2108.6 3686.4 C2093.5 3690.6 2077.4 3694.1 2061.2 3696.7 C2045.0 3699.3 2028.2 3701.0 2011.4 3701.9 C1994.7 3702.8 1977.6 3702.8 1960.8 3701.9 C1944.1 3701.0 1927.2 3699.3 1911.0 3696.7 C1894.8 3694.1 1878.8 3690.6 1863.7 3686.4 C1848.5 3682.2 1833.8 3677.1 1820.3 3671.5 C1806.7 3665.8 1793.8 3659.3 1782.2 3652.3 C1770.6 3645.3 1760.0 3637.5 1750.8 3629.5 C1741.5 3621.4 1733.5 3612.7 1726.9 3603.8 C1720.4 3594.9 1715.1 3585.5 1711.5 3576.1 C1707.8 3566.7 1705.6 3556.9 1704.9 3547.2 C1704.2 3537.6 1707.0 3523.0 1707.4 3518.2"/>
<path d="M1707.4 3518.2 C1709.2 3513.6 1713.4 3499.6 1718.4 3490.7 C1723.5 3481.8 1729.9 3473.0 1737.6 3464.7 C1745.2 3456.4 1754.3 3448.4 1764.3 3441.0 C1774.3 3433.7 1785.7 3426.7 1797.8 3420.4 C1809.9 3414.1 1823.1 3408.4 1837.0 3403.4 C1850.8 3398.5 1873.4 3392.7 1880.7 3390.6"/>
<path d="M1932.4 3381.8 C1936.6 3381.4 1949.0 3380.2 1957.3 3379.7 C1965.7 3379.2 1974.1 3378.9 1982.4 3378.8 C1990.8 3378.8 1999.2 3378.9 2007.6 3379.3 C2016.0 3379.7 2028.4 3380.8 2032.6 3381.0"/>
<path d="M2266.9 3568.1 C2265.6 3572.8 2263.1 3587.1 2259.1 3596.3 C2255.1 3605.5 2249.6 3614.6 2242.8 3623.3 C2236.0 3631.9 2227.8 3640.3 2218.5 3648.2 C2209.2 3656.0 2198.6 3663.5 2187.0 3670.2 C2175.5 3677.0 2162.7 3683.3 2149.2 3688.7 C2135.8 3694.2 2121.3 3699.1 2106.4 3703.2 C2091.5 3707.2 2075.7 3710.6 2059.8 3713.0 C2043.9 3715.5 2027.4 3717.2 2011.0 3718.1 C1994.5 3718.9 1977.7 3718.9 1961.3 3718.1 C1944.9 3717.2 1928.3 3715.5 1912.4 3713.0 C1896.5 3710.6 1880.8 3707.2 1865.9 3703.2 C1851.0 3699.1 1836.5 3694.2 1823.0 3688.7 C1809.6 3683.3 1796.8 3677.0 1785.3 3670.2 C1773.7 3663.5 1763.0 3656.0 1753.7 3648.2 C1744.4 3640.3 1736.2 3631.9 1729.5 3623.3 C1722.7 3614.6 1717.2 3605.5 1713.1 3596.3 C1709.1 3587.1 1706.6 3572.8 1705.3 3568.1"/>
<path d="M1704.5 3531.2 L1704.5 3564.3"/>
<path d="M2267.5 3543.6 L2267.5 3568.4"/>
<ellipse cx="1979.9" cy="3397.9" rx="17.4" ry="10.3"/>
<path d="M1967.1 3405.7 C1967.3 3405.6 1967.6 3405.1 1967.9 3404.9 C1968.2 3404.6 1968.6 3404.4 1969.1 3404.1 C1969.5 3403.9 1970.0 3403.7 1970.6 3403.5 C1971.1 3403.3 1971.7 3403.1 1972.3 3402.9 C1973.0 3402.7 1973.6 3402.6 1974.3 3402.5 C1975.0 3402.4 1975.8 3402.3 1976.5 3402.2 C1977.2 3402.1 1978.0 3402.1 1978.8 3402.0 C1979.5 3402.0 1980.3 3402.0 1981.1 3402.0 C1981.8 3402.1 1982.6 3402.1 1983.4 3402.2 C1984.1 3402.3 1984.8 3402.4 1985.5 3402.5 C1986.2 3402.6 1986.9 3402.7 1987.5 3402.9 C1988.1 3403.1 1988.7 3403.3 1989.3 3403.5 C1989.8 3403.7 1990.3 3403.9 1990.8 3404.1 C1991.2 3404.4 1991.6 3404.6 1991.9 3404.9 C1992.3 3405.1 1992.6 3405.6 1992.7 3405.7"/>
<ellipse cx="1755.6" cy="3487.7" rx="17.4" ry="10.3"/>
<path d="M1742.8 3495.5 C1742.9 3495.4 1743.2 3495.0 1743.6 3494.7 C1743.9 3494.4 1744.3 3494.2 1744.7 3494.0 C1745.1 3493.7 1745.6 3493.5 1746.2 3493.3 C1746.7 3493.1 1747.3 3492.9 1748.0 3492.7 C1748.6 3492.6 1749.3 3492.4 1750.0 3492.3 C1750.7 3492.2 1751.4 3492.1 1752.1 3492.0 C1752.9 3491.9 1753.6 3491.9 1754.4 3491.9 C1755.2 3491.8 1755.9 3491.8 1756.7 3491.9 C1757.5 3491.9 1758.2 3491.9 1759.0 3492.0 C1759.7 3492.1 1760.5 3492.2 1761.2 3492.3 C1761.9 3492.4 1762.5 3492.6 1763.2 3492.7 C1763.8 3492.9 1764.4 3493.1 1764.9 3493.3 C1765.5 3493.5 1766.0 3493.7 1766.4 3494.0 C1766.8 3494.2 1767.2 3494.4 1767.6 3494.7 C1767.9 3495.0 1768.2 3495.4 1768.4 3495.5"/>
<ellipse cx="2226.6" cy="3504.3" rx="17.4" ry="10.3"/>
<path d="M2213.8 3512.1 C2214.0 3511.9 2214.3 3511.5 2214.6 3511.3 C2215.0 3511.0 2215.4 3510.8 2215.8 3510.5 C2216.2 3510.3 2216.7 3510.1 2217.3 3509.9 C2217.8 3509.6 2218.4 3509.5 2219.0 3509.3 C2219.7 3509.1 2220.3 3509.0 2221.0 3508.9 C2221.7 3508.7 2222.5 3508.6 2223.2 3508.6 C2224.0 3508.5 2224.7 3508.4 2225.5 3508.4 C2226.3 3508.4 2227.0 3508.4 2227.8 3508.4 C2228.6 3508.4 2229.3 3508.5 2230.1 3508.6 C2230.8 3508.6 2231.5 3508.7 2232.2 3508.9 C2232.9 3509.0 2233.6 3509.1 2234.2 3509.3 C2234.9 3509.5 2235.5 3509.6 2236.0 3509.9 C2236.5 3510.1 2237.1 3510.3 2237.5 3510.5 C2237.9 3510.8 2238.3 3511.0 2238.6 3511.3 C2239.0 3511.5 2239.3 3511.9 2239.4 3512.1"/>
<ellipse cx="1828.0" cy="3651.2" rx="17.4" ry="10.3"/>
<path d="M1815.2 3659.0 C1815.3 3658.9 1815.7 3658.5 1816.0 3658.2 C1816.3 3658.0 1816.7 3657.7 1817.2 3657.5 C1817.6 3657.2 1818.1 3657.0 1818.6 3656.8 C1819.2 3656.6 1819.8 3656.4 1820.4 3656.3 C1821.0 3656.1 1821.7 3655.9 1822.4 3655.8 C1823.1 3655.7 1823.8 3655.6 1824.6 3655.5 C1825.3 3655.4 1826.1 3655.4 1826.8 3655.4 C1827.6 3655.3 1828.4 3655.3 1829.2 3655.4 C1829.9 3655.4 1830.7 3655.4 1831.4 3655.5 C1832.2 3655.6 1832.9 3655.7 1833.6 3655.8 C1834.3 3655.9 1835.0 3656.1 1835.6 3656.3 C1836.2 3656.4 1836.8 3656.6 1837.4 3656.8 C1837.9 3657.0 1838.4 3657.2 1838.9 3657.5 C1839.3 3657.7 1839.7 3658.0 1840.0 3658.2 C1840.3 3658.5 1840.7 3658.9 1840.8 3659.0"/>
<ellipse cx="2119.0" cy="3661.6" rx="17.4" ry="10.3"/>
<path d="M2106.2 3669.4 C2106.3 3669.2 2106.7 3668.8 2107.0 3668.6 C2107.3 3668.3 2107.7 3668.1 2108.2 3667.8 C2108.6 3667.6 2109.1 3667.4 2109.6 3667.2 C2110.2 3667.0 2110.8 3666.8 2111.4 3666.6 C2112.0 3666.4 2112.7 3666.3 2113.4 3666.2 C2114.1 3666.0 2114.8 3665.9 2115.6 3665.9 C2116.3 3665.8 2117.1 3665.7 2117.9 3665.7 C2118.6 3665.7 2119.4 3665.7 2120.2 3665.7 C2120.9 3665.7 2121.7 3665.8 2122.4 3665.9 C2123.2 3665.9 2123.9 3666.0 2124.6 3666.2 C2125.3 3666.3 2126.0 3666.4 2126.6 3666.6 C2127.2 3666.8 2127.8 3667.0 2128.4 3667.2 C2128.9 3667.4 2129.4 3667.6 2129.9 3667.8 C2130.3 3668.1 2130.7 3668.3 2131.0 3668.6 C2131.3 3668.8 2131.7 3669.2 2131.8 3669.4"/>
<path d="M1881.5 3250.1 L1881.5 3514.6 L1872.5 3527.0 L1872.5 3582.9 L1935.6 3609.8"/>
<path d="M1894.5 3250.1 L1894.5 3572.6 L1894.2 3572.6 C1895.5 3573.6 1899.5 3578.8 1902.1 3578.8 C1904.7 3578.8 1908.7 3573.6 1910.0 3572.6 L1909.5 3572.6 L1909.5 3250.1"/>
<path d="M1923.5 3250.1 L1923.5 3527.0 L1932.5 3547.7 L1932.5 3609.8"/>
<path d="M1930.5 3250.1 L1930.5 3522.9 L1938.5 3542.8 L1938.5 3606.5"/>
<path d="M2043.5 3250.1 L2043.5 3388.4 L2034.5 3402.8 L2034.5 3452.5"/>
<path d="M2035.0 3452.5 C2031.5 3456.0 2023.3 3467.7 2014.3 3473.2 C2005.3 3478.7 1986.7 3483.6 1981.2 3485.6"/>
<path d="M1981.2 3485.6 L1935.6 3522.9"/>
<path d="M2061.5 3250.1 L2061.5 3448.4 L2061.9 3448.4 C2062.6 3449.1 2064.6 3452.5 2066.0 3452.5 C2067.4 3452.5 2069.5 3449.1 2070.2 3448.4 L2070.5 3448.4 L2070.5 3250.1"/>
<path d="M2076.5 3250.1 L2076.5 3514.6"/>
<path d="M2078.5 3324.2 L2078.5 3506.3"/>
<path d="M2118.5 3250.1 L2118.5 3485.6"/>
<path d="M1938.5 3606.5 C1940.1 3605.0 1943.7 3600.3 1948.0 3597.4 C1952.4 3594.5 1957.7 3591.5 1964.6 3589.1 C1971.5 3586.7 1985.3 3583.9 1989.4 3582.9"/>
<path d="M1989.4 3582.9 L2037.0 3545.7 L2053.6 3536.1"/>
<path d="M1935.6 3609.8 C1937.1 3609.8 1941.3 3611.5 1944.7 3609.8 C1948.2 3608.1 1948.2 3603.1 1956.3 3599.5 C1964.5 3595.8 1987.4 3589.8 1993.6 3587.9"/>
<path d="M1993.6 3587.9 L2039.1 3552.7"/>
<ellipse cx="2011.4" cy="3515.4" rx="20.7" ry="13.2"/>
<path d="M1995.4 3525.3 C1995.6 3525.1 1996.0 3524.6 1996.4 3524.2 C1996.8 3523.9 1997.3 3523.5 1997.8 3523.2 C1998.4 3522.9 1999.0 3522.6 1999.7 3522.3 C2000.4 3522.1 2001.1 3521.8 2001.9 3521.6 C2002.7 3521.4 2003.5 3521.2 2004.4 3521.0 C2005.3 3520.9 2006.2 3520.7 2007.1 3520.6 C2008.0 3520.5 2009.0 3520.5 2009.9 3520.4 C2010.9 3520.4 2011.9 3520.4 2012.8 3520.4 C2013.8 3520.5 2014.7 3520.5 2015.7 3520.6 C2016.6 3520.7 2017.5 3520.9 2018.4 3521.0 C2019.3 3521.2 2020.1 3521.4 2020.9 3521.6 C2021.7 3521.8 2022.4 3522.1 2023.1 3522.3 C2023.8 3522.6 2024.4 3522.9 2024.9 3523.2 C2025.5 3523.5 2026.0 3523.9 2026.4 3524.2 C2026.8 3524.6 2027.2 3525.1 2027.4 3525.3"/>
<ellipse cx="1961.3" cy="3554.8" rx="20.7" ry="13.2"/>
<path d="M1945.3 3564.6 C1945.5 3564.5 1945.9 3563.9 1946.3 3563.6 C1946.7 3563.2 1947.2 3562.9 1947.7 3562.6 C1948.3 3562.2 1948.9 3561.9 1949.6 3561.7 C1950.3 3561.4 1951.0 3561.1 1951.8 3560.9 C1952.6 3560.7 1953.4 3560.5 1954.3 3560.3 C1955.2 3560.2 1956.1 3560.1 1957.0 3560.0 C1957.9 3559.9 1958.9 3559.8 1959.9 3559.8 C1960.8 3559.7 1961.8 3559.7 1962.7 3559.8 C1963.7 3559.8 1964.7 3559.9 1965.6 3560.0 C1966.5 3560.1 1967.4 3560.2 1968.3 3560.3 C1969.2 3560.5 1970.0 3560.7 1970.8 3560.9 C1971.6 3561.1 1972.3 3561.4 1973.0 3561.7 C1973.7 3561.9 1974.3 3562.2 1974.9 3562.6 C1975.4 3562.9 1975.9 3563.2 1976.3 3563.6 C1976.7 3563.9 1977.1 3564.5 1977.3 3564.6"/>
<ellipse cx="2043.3" cy="3490.6" rx="2.5" ry="2.5" style="fill:#000;"/>
<ellipse cx="2109.5" cy="3527.0" rx="27.3" ry="16.6"/>
<ellipse cx="2061.9" cy="3564.3" rx="27.3" ry="16.6"/>
<path d="M2099.5 3518.7 L2099.5 3491.8 L2099.1 3491.8 C2099.8 3490.7 2101.6 3486.2 2103.3 3484.8 C2105.0 3483.4 2107.4 3483.3 2109.5 3483.6 C2111.6 3483.8 2114.2 3484.7 2115.7 3486.5 C2117.2 3488.2 2118.1 3492.7 2118.6 3493.9 L2118.5 3493.9 L2118.5 3518.7"/>
<path d="M2099.1 3504.3 C2100.7 3505.2 2105.4 3509.6 2108.7 3509.6 C2111.9 3509.6 2116.9 3505.2 2118.6 3504.3"/>
<path d="M2099.1 3512.5 C2100.7 3513.4 2105.4 3517.9 2108.7 3517.9 C2111.9 3517.9 2116.9 3513.4 2118.6 3512.5"/>
<path d="M2054.5 3556.0 L2054.5 3527.0 L2054.8 3527.0 C2055.5 3525.8 2057.5 3521.2 2059.0 3519.6 C2060.5 3518.0 2062.1 3517.3 2064.0 3517.5 C2065.8 3517.7 2068.6 3519.1 2070.2 3520.8 C2071.7 3522.5 2072.6 3526.7 2073.1 3527.9 L2073.5 3527.9 L2073.5 3556.0"/>
<path d="M2054.8 3539.4 C2056.4 3540.3 2060.9 3544.4 2064.0 3544.4 C2067.0 3544.4 2071.5 3540.3 2073.1 3539.4"/>
<path d="M2054.8 3548.6 C2056.4 3549.4 2060.9 3553.5 2064.0 3553.5 C2067.0 3553.5 2071.5 3549.4 2073.1 3548.6"/>
<path d="M2032.5 3566.4 L2032.5 3603.6 L2043.3 3614.0 L2064.0 3620.2 L2088.8 3609.8 L2095.0 3593.3 L2105.4 3587.0 L2130.2 3580.8 L2140.5 3566.4 L2140.5 3520.8 L2134.3 3516.7"/>
<path d="M2063.5 3580.8 L2063.5 3620.2" style="stroke-width:4;"/>
<path d="M2039.5 3568.4 L2039.5 3607.7"/>
<path d="M2089.5 3562.2 L2089.5 3607.7"/>
<path d="M2136.5 3527.0 L2136.5 3568.4"/>
<path d="M2070.2 3506.3 C2070.5 3507.4 2071.2 3511.2 2072.2 3512.5 C2073.3 3513.9 2075.7 3514.3 2076.4 3514.6"/>
<path d="M1898.4 3742.3 L1935.6 3715.4 L2010.1 3717.4 L2008.1 3727.8 L1993.6 3729.9 L1935.6 3760.1"/>
<ellipse cx="1906.7" cy="3752.6" rx="8.3" ry="14.1" transform="rotate(-20.0 1906.7 3752.6)"/>
<ellipse cx="1908.7" cy="3754.7" rx="4.1" ry="7.5" transform="rotate(-20.0 1908.7 3754.7)"/>
<path d="M2173.7 3676.0 C2171.9 3680.9 2171.2 3694.7 2163.3 3705.0 C2155.4 3715.4 2137.8 3729.0 2126.0 3738.1 C2114.3 3747.3 2098.5 3756.4 2092.9 3760.1"/>
<path d="M2134.3 3703.0 C2126.0 3708.8 2102.6 3728.6 2084.7 3738.1 C2066.7 3747.7 2036.4 3756.4 2026.7 3760.1"/>
<path d="M2142.6 3311.5 L2146.7 3311.5"/>
<path d="M1392.5 3653.7 L1392.5 3600.4 L1430.1 3578.1 L1482.5 3607.4 L1482.5 3623.9"/>
<path d="M1392.4 3653.7 L1476.4 3703.7"/>
<path d="M1399.8 3604.2 L1438.1 3627.1"/>
<path d="M1440.5 3628.1 L1440.5 3681.3"/>
<path d="M1440.8 3628.1 L1453.0 3622.3 L1463.7 3634.5 L1470.1 3633.4"/>
<path d="M1453.0 3629.2 C1451.6 3630.1 1446.6 3632.2 1444.5 3634.5 C1442.5 3636.8 1441.1 3640.0 1440.8 3643.0 C1440.4 3646.0 1441.1 3650.3 1442.4 3652.6 C1443.7 3654.9 1447.7 3656.2 1448.8 3656.9"/>
<path d="M1453.0 3629.2 L1487.1 3645.2"/>
<path d="M1444.5 3655.3 L1480.7 3675.5"/>
<path d="M1475.4 3634.5 L1495.6 3649.4"/>
<path d="M1495.6 3649.4 C1496.5 3648.0 1498.8 3643.4 1500.9 3640.9 C1503.1 3638.4 1505.9 3635.8 1508.4 3634.5 C1510.9 3633.3 1513.9 3632.7 1515.8 3633.4 C1517.8 3634.2 1519.6 3636.5 1520.1 3638.8 C1520.6 3641.1 1520.1 3644.1 1519.0 3647.3 C1518.0 3650.5 1514.6 3656.2 1513.7 3657.9"/>
<path d="M1482.8 3614.8 L1516.9 3633.4"/>
<path d="M1482.8 3623.9 C1481.8 3624.6 1478.0 3626.4 1476.4 3628.1 C1474.9 3629.9 1474.2 3633.4 1473.8 3634.5"/>
<path d="M1487.1 3645.2 C1485.8 3646.2 1481.6 3648.9 1479.6 3651.5 C1477.7 3654.2 1476.1 3657.9 1475.4 3661.1 C1474.7 3664.3 1474.5 3668.3 1475.4 3670.7 C1476.3 3673.1 1479.8 3674.7 1480.7 3675.5"/>
<path d="M1480.7 3675.5 L1483.9 3675.5"/>
<path d="M1502.0 3653.7 C1500.6 3654.0 1496.0 3654.0 1493.5 3655.8 C1490.9 3657.6 1487.9 3661.1 1486.6 3664.3 C1485.2 3667.5 1485.2 3672.3 1485.5 3675.0 C1485.8 3677.6 1487.7 3679.4 1488.2 3680.3"/>
<path d="M1448.8 3656.9 C1447.9 3658.1 1444.9 3661.8 1443.4 3664.3 C1442.0 3666.8 1440.7 3668.9 1440.3 3671.8 C1439.8 3674.6 1440.7 3679.8 1440.8 3681.3"/>
<path d="M1483.9 3675.5 C1483.7 3676.3 1484.1 3678.6 1482.8 3680.3 C1481.6 3682.0 1477.8 3683.5 1476.4 3685.6 C1475.1 3687.7 1474.8 3690.1 1474.8 3693.1 C1474.8 3696.0 1474.8 3701.6 1476.4 3703.2 C1478.1 3704.8 1482.3 3703.8 1485.0 3702.6 C1487.6 3701.5 1490.5 3698.7 1492.4 3696.3 C1494.4 3693.8 1496.0 3689.2 1496.7 3687.7"/>
<path d="M1461.5 3621.7 L1476.4 3615.4 L1471.1 3612.2 L1481.5 3609.0 L1481.5 3622.8 L1476.4 3620.7 L1470.1 3623.9 L1469.0 3628.1 L1463.7 3629.2 Z" style="fill:#000;"/>
<path d="M1443.4 3629.7 L1453.0 3623.9" style="stroke-width:5;"/>
<path d="M1443.4 3655.8 L1448.8 3660.1"/>
<path d="M1488.2 3680.3 L1550.0 3715.9"/>
<path d="M1502.0 3653.7 C1503.4 3654.4 1502.5 3653.5 1510.5 3657.9 C1518.5 3662.4 1543.4 3676.6 1550.0 3680.3"/>
<path d="M1550.1 3681.0 C1566.9 3691.6 1619.2 3724.5 1650.9 3744.5 C1682.6 3764.5 1720.7 3789.1 1740.3 3801.3 C1759.9 3813.4 1759.8 3813.7 1768.7 3817.2 C1777.6 3820.8 1783.5 3822.0 1793.5 3822.6 C1803.6 3823.2 1814.2 3823.2 1829.0 3820.8 C1843.8 3818.4 1862.1 3813.4 1882.2 3808.4 C1902.4 3803.3 1938.7 3793.6 1950.0 3790.6"/>
<path d="M1550.1 3716.1 C1562.4 3723.9 1593.4 3743.6 1623.9 3763.0 C1654.4 3782.3 1710.3 3818.3 1733.2 3832.5 C1756.2 3846.7 1753.3 3844.4 1761.6 3848.1 C1769.9 3851.8 1772.8 3853.5 1782.9 3854.5 C1792.9 3855.4 1805.4 3855.9 1821.9 3853.8 C1838.5 3851.7 1860.9 3846.7 1882.2 3842.1 C1903.6 3837.5 1938.7 3828.8 1950.0 3826.1"/>
<path d="M1898.2 3741.0 L1935.5 3715.4 L1950.0 3714.7"/>
<ellipse cx="1908.8" cy="3755.9" rx="9.9" ry="17.0" transform="rotate(-25.0 1908.8 3755.9)"/>
<ellipse cx="1909.9" cy="3757.3" rx="5.7" ry="10.6" transform="rotate(-25.0 1909.9 3757.3)"/>
<path d="M1917.7 3772.2 L1950.0 3754.4"/>
<path d="M1950.0 3790.7 C1956.7 3788.4 1977.2 3782.1 1990.0 3777.0 C2002.8 3771.9 2020.6 3762.8 2026.7 3760.0"/>
<path d="M1950.0 3826.0 C1963.3 3820.8 2006.2 3806.0 2030.0 3795.0 C2053.8 3784.0 2082.5 3765.8 2093.0 3760.0"/>
<path d="M326.2 3200.9 L333.7 3201.9 L418.8 3283.9 L415.6 3289.2 L397.5 3340.3 L378.4 3352.0 L377.3 3359.5 L356.0 3367.5 L350.7 3367.5 L299.6 3314.8 L300.7 3306.3 L272.5 3278.6 L272.5 3261.5 L283.6 3226.4 L293.2 3219.0 Z" style="stroke-width:4;"/>
<path d="M293.2 3219.0 L297.5 3220.0 L397.5 3309.4"/>
<path d="M397.5 3297.7 L418.8 3286.0"/>
<path d="M397.5 3297.7 L397.5 3316.9 L386.9 3321.2"/>
<path d="M301.7 3308.4 L325.2 3276.4 L380.5 3308.4 L356.0 3366.9" style="stroke-width:4;"/>
<path d="M304.9 3307.3 L325.2 3280.7 L376.3 3310.9 L353.9 3364.2"/>
<path d="M283.6 3226.4 L288.5 3230.0" style="stroke-width:6;"/>
<path d="M328.4 3227.5 L333.7 3225.8 L349.6 3241.3 L342.2 3245.6 L329.4 3232.8 Z" style="stroke-width:4;"/>
<path d="M307.1 3241.3 L311.3 3239.2 L326.2 3253.0 L319.8 3255.2 L307.1 3243.4 Z" style="stroke-width:4;"/>
<path d="M358.2 3258.4 L363.5 3256.2 L399.7 3289.2 L397.5 3294.5 L359.2 3261.5 Z" style="fill:#000;"/>
<path d="M367.7 3238.1 L416.7 3285.0" style="stroke-width:6;"/>
<path d="M372.0 3236.0 L378.4 3242.4"/>
<path d="M287.9 3250.9 L292.2 3249.8 L301.7 3260.5" style="stroke-width:4;"/>
<path d="M288.5 3252.0 L288.5 3270.1"/>
<path d="M289.4 3285.0 L301.7 3297.7" style="stroke-width:6;"/>
<path d="M297.5 3267.9 C298.5 3266.5 301.2 3260.5 303.9 3259.4 C306.5 3258.4 311.9 3261.2 313.4 3261.5"/>
<path d="M300.7 3270.1 C300.5 3271.8 299.1 3278.2 299.6 3280.7 C300.1 3283.2 303.2 3284.3 303.9 3285.0"/>
<path d="M303.9 3261.5 L310.3 3270.1 L308.1 3276.4"/>
<ellipse cx="339.0" cy="3310.5" rx="21.3" ry="31.9" transform="rotate(-25.0 339.0 3310.5)" style="stroke-width:4;"/>
<ellipse cx="340.1" cy="3311.6" rx="16.6" ry="27.3" transform="rotate(-25.0 340.1 3311.6)"/>
<path d="M325.2 3289.2 C326.2 3292.1 328.0 3301.3 331.5 3306.3 C335.1 3311.2 342.9 3314.8 346.4 3319.0 C350.0 3323.3 351.8 3329.7 352.8 3331.8"/>
<path d="M329.4 3292.4 C330.7 3294.7 333.3 3302.2 336.9 3306.3 C340.4 3310.3 348.4 3315.1 350.7 3316.9"/>
<path d="M314.5 3310.5 L333.7 3333.9 L350.7 3338.2"/>
<path d="M319.8 3294.5 L314.5 3310.5"/>
<ellipse cx="347.5" cy="3316.9" rx="3.0" ry="6.4" transform="rotate(-25.0 347.5 3316.9)" style="fill:#000;"/>
<path d="M333.7 3333.9 L337.9 3331.8" style="stroke-width:5;"/>
<path d="M380.5 3243.4 L399.7 3233.4 L416.7 3233.9"/>
<path d="M399.7 3233.9 C401.4 3234.9 406.1 3236.0 410.3 3240.3 C414.6 3244.5 421.0 3252.7 425.2 3259.4 C429.5 3266.2 434.1 3277.2 435.9 3280.7"/>
<path d="M416.7 3233.9 C418.5 3234.9 423.4 3236.0 427.3 3240.3 C431.2 3244.5 437.1 3252.7 440.1 3259.4 C443.1 3266.2 444.7 3275.7 445.4 3280.7 C446.2 3285.7 445.6 3286.7 444.4 3289.2 C443.1 3291.7 439.1 3294.5 438.0 3295.6"/>
<path d="M438.0 3295.6 L410.3 3314.8 L398.6 3340.3"/>
<path d="M418.8 3252.0 C420.6 3254.3 426.8 3261.0 429.5 3265.8 C432.1 3270.6 433.9 3278.2 434.8 3280.7" style="stroke-width:6;"/>
<path d="M376.3 3331.8 L380.5 3319.0"/>
<path d="M367.7 3357.3 L376.3 3342.4 L380.5 3346.7 L378.4 3352.0" style="stroke-width:4;"/>
<path d="M416.7 3231.7 L444.4 3214.7 L455.0 3213.6 L476.5 3233.9 L476.5 3238.1 L440.1 3255.2 L425.2 3236.0"/>
<path d="M444.4 3215.8 L457.1 3217.9 L475.2 3236.0"/>
<path d="M417.1 3232.2 L450.8 3216.2" style="stroke-width:6;"/>
<path d="M455.0 3213.6 C457.5 3214.0 465.3 3213.8 469.9 3215.8 C474.5 3217.7 479.7 3222.0 482.7 3225.4 C485.7 3228.7 487.1 3234.2 488.0 3236.0"/>
<path d="M488.0 3236.0 C489.3 3236.2 493.2 3235.8 495.5 3237.1 C497.8 3238.3 501.0 3241.0 501.9 3243.4 C502.7 3245.9 501.0 3250.5 500.8 3252.0"/>
<path d="M500.8 3252.0 L514.6 3256.2"/>
<path d="M461.4 3259.4 C460.9 3261.2 458.9 3266.5 458.2 3270.1 C457.5 3273.6 458.0 3278.0 457.1 3280.7 C456.3 3283.4 455.0 3284.6 452.9 3286.0 C450.8 3287.4 445.8 3288.7 444.4 3289.2"/>
<path d="M461.4 3259.4 C462.1 3258.2 462.5 3254.4 465.7 3252.0 C468.9 3249.5 476.8 3247.0 480.6 3244.5 C484.3 3242.0 486.8 3238.3 488.0 3237.1"/>
<path d="M452.9 3286.0 L459.3 3282.8 L469.9 3297.7"/>
<path d="M514.6 3256.5 L523.1 3256.5 L600.0 3333.9"/>
<path d="M469.5 3297.7 L469.5 3306.3 L505.1 3342.4 L584.9 3419.9"/>
<path d="M514.6 3256.2 C510.7 3258.5 497.6 3265.3 491.2 3270.1 C484.8 3274.8 479.7 3280.0 476.3 3285.0 C472.9 3289.9 471.9 3297.4 471.0 3299.9"/>
<path d="M537.0 3274.3 C533.3 3275.7 521.5 3278.6 514.6 3282.8 C507.7 3287.1 500.1 3293.8 495.5 3299.9 C490.9 3305.9 488.4 3315.8 487.0 3319.0"/>
<path d="M553.0 3290.3 C549.4 3291.5 538.4 3293.7 531.7 3297.7 C524.9 3301.8 517.1 3308.7 512.5 3314.8 C507.9 3320.8 505.2 3329.3 504.0 3333.9 C502.7 3338.5 504.9 3341.0 505.1 3342.4"/>
<path d="M599.8 3334.2 C605.2 3339.5 619.7 3352.8 632.2 3366.1 C644.7 3379.4 663.5 3398.0 674.8 3414.0 C686.2 3430.0 694.8 3446.4 700.4 3461.9 C705.9 3477.4 708.2 3492.1 708.3 3507.2 C708.5 3522.2 707.0 3537.8 701.4 3552.4 C695.8 3567.0 690.8 3576.3 674.8 3595.0 C658.8 3613.6 627.8 3642.0 605.6 3664.2 C583.4 3686.3 555.9 3713.0 541.8 3728.0 C527.6 3743.1 525.1 3746.7 520.5 3754.6 C515.8 3762.6 514.1 3768.8 514.1 3775.9 C514.1 3783.0 515.8 3790.1 520.5 3797.2 C525.1 3804.3 535.2 3813.5 541.8 3818.5 C548.3 3823.5 556.8 3825.6 559.8 3827.0"/>
<path d="M584.9 3419.9 C590.1 3425.3 607.9 3440.4 616.3 3452.3 C624.6 3464.2 631.3 3479.4 634.9 3491.2 C638.4 3503.0 639.3 3512.5 637.6 3523.1 C635.8 3533.8 634.0 3542.2 624.2 3555.1 C614.5 3567.9 599.0 3580.3 579.0 3600.3 C559.0 3620.3 523.1 3656.2 504.5 3674.8 C485.9 3693.4 476.6 3700.5 467.2 3712.1 C457.9 3723.6 452.6 3733.4 448.6 3744.0 C444.6 3754.6 443.7 3765.3 443.3 3775.9 C442.8 3786.6 442.8 3797.2 445.9 3807.9 C449.1 3818.5 453.9 3830.0 461.9 3839.8 C469.9 3849.6 480.5 3857.5 493.8 3866.4 C507.2 3875.3 530.8 3887.1 541.8 3893.0 C552.7 3899.0 556.8 3900.6 559.8 3902.1"/>
<path d="M560.0 3825.2 L630.3 3859.2"/>
<path d="M560.0 3902.9 L603.6 3924.8"/>
<path d="M630.3 3859.2 C627.4 3860.3 618.0 3862.1 613.2 3865.6 C608.4 3869.2 604.5 3874.5 601.5 3880.5 C598.5 3886.5 595.8 3895.4 595.1 3901.8 C594.4 3908.2 595.8 3915.0 597.3 3918.8 C598.7 3922.7 602.6 3923.8 603.6 3924.8"/>
<path d="M630.3 3859.2 C631.5 3859.8 635.9 3860.6 637.7 3862.4 C639.5 3864.2 640.4 3868.6 640.9 3869.9"/>
<path d="M640.9 3873.1 C638.8 3874.3 631.5 3876.8 628.1 3880.5 C624.8 3884.2 622.4 3890.4 620.7 3895.4 C618.9 3900.4 617.5 3905.3 617.5 3910.3 C617.5 3915.3 618.9 3921.5 620.7 3925.2 C622.4 3928.9 626.9 3931.4 628.1 3932.7"/>
<path d="M603.6 3924.8 L617.1 3923.1"/>
<ellipse cx="656.9" cy="3912.4" rx="25.1" ry="33.0" transform="rotate(-25.0 656.9 3912.4)"/>
<path d="M640.9 3873.1 L655.8 3874.1 L679.2 3858.2 L687.7 3850.7"/>
<path d="M681.3 3932.7 L719.7 3908.2"/>
<path d="M651.5 3880.5 L683.5 3861.3"/>
<path d="M670.7 3864.5 L687.7 3851.8 L709.0 3848.6"/>
<path d="M669.6 3889.0 L706.9 3868.8" style="stroke-width:6;"/>
<path d="M709.0 3874.1 C710.6 3876.6 716.5 3883.3 718.6 3889.0 C720.7 3894.7 721.6 3903.6 721.8 3908.2 C722.0 3912.8 720.0 3915.3 719.7 3916.7"/>
<path d="M713.3 3873.1 C714.8 3875.7 720.2 3883.5 722.2 3889.0 C724.3 3894.5 725.6 3901.4 725.6 3906.1 C725.6 3910.7 722.8 3914.9 722.2 3916.7"/>
<path d="M687.7 3850.7 C690.6 3848.9 699.4 3842.5 704.8 3840.1 C710.1 3837.6 714.7 3834.7 719.7 3835.8 C724.6 3836.9 730.0 3841.5 734.6 3846.4 C739.2 3851.4 744.2 3858.9 747.3 3865.6 C750.5 3872.3 753.2 3881.6 753.7 3886.9 C754.3 3892.2 751.1 3895.8 750.5 3897.5"/>
<path d="M750.5 3897.5 L726.1 3914.6 L709.0 3921.0"/>
<path d="M700.5 3848.6 C703.0 3849.6 710.8 3851.8 715.4 3855.0 C720.0 3858.2 725.2 3864.7 728.2 3867.7 C731.2 3870.8 732.6 3872.2 733.5 3873.1"/>
<path d="M706.9 3846.0 C709.4 3847.7 717.5 3852.1 721.8 3856.0 C726.1 3860.0 731.0 3867.6 732.9 3869.9"/>
<path d="M732.9 3869.9 L729.2 3874.5"/>
<path d="M700.5 3825.2 L706.9 3836.9 L687.7 3850.7"/>
<path d="M693.5 3810.3 L693.5 3792.2 L730.3 3766.6 L812.3 3802.8 L813.3 3818.8"/>
<path d="M693.1 3792.2 L696.3 3790.0"/>
<path d="M693.1 3810.3 L699.4 3814.5 L760.1 3837.9 L811.2 3804.9"/>
<path d="M699.4 3814.5 L700.5 3825.2 L709.0 3829.4 L760.1 3837.9"/>
<path d="M702.6 3827.3 L705.8 3834.7 L717.5 3838.4"/>
<path d="M760.1 3837.9 L761.2 3933.7 L726.1 3916.7" style="stroke-width:4;"/>
<path d="M761.2 3933.7 L769.7 3932.7 L777.1 3927.3"/>
<path d="M716.5 3784.7 L730.3 3777.3 L796.3 3806.0 L781.4 3815.6 Z"/>
<path d="M721.8 3785.8 L783.5 3813.4" style="stroke-width:6;"/>
<path d="M727.1 3787.9 L741.0 3787.3 L793.1 3809.2"/>
<path d="M764.5 3916.7 L764.5 3842.2 L789.9 3825.2 L800.6 3816.6 L813.3 3818.8 L832.5 3834.7 L836.8 3840.1 L841.0 3855.0 L838.9 3906.1 L804.8 3932.7 L772.9 3921.0 L764.4 3916.7" style="stroke-width:4;"/>
<path d="M767.6 3846.4 L804.8 3859.2 L804.8 3859.2 C805.7 3860.6 809.0 3864.5 810.1 3867.7 C811.3 3870.9 811.4 3876.6 811.6 3878.4 L811.6 3878.4 L812.3 3925.2"/>
<path d="M804.8 3859.2 L836.8 3841.1"/>
<path d="M807.0 3855.0 L830.4 3840.1"/>
<path d="M812.3 3868.8 L839.3 3856.0" style="stroke-width:6;"/>
<path d="M789.9 3826.2 L800.6 3833.7 L801.6 3830.5 L792.1 3824.1"/>
<path d="M767.6 3889.0 L785.7 3878.4 L806.5 3886.9 L806.5 3906.1 L800.6 3921.0 L768.6 3910.3" style="stroke-width:4;"/>
<path d="M785.7 3861.3 L794.2 3859.2 L800.5 3867.7 L800.5 3878.4 L787.8 3874.1 Z" style="stroke-width:4;"/>
<path d="M779.3 3850.7 C779.8 3853.5 782.8 3862.8 782.5 3867.7 C782.1 3872.7 779.6 3877.3 777.1 3880.5 C774.7 3883.7 769.2 3885.8 767.6 3886.9"/>
<path d="M768.6 3893.3 L802.7 3903.9" style="stroke-width:4;"/>
<path d="M786.7 3880.5 L802.7 3886.9"/>
<path d="M812.3 3925.2 L836.8 3908.2"/>
<path d="M816.5 3822.0 C817.8 3820.9 821.0 3816.5 824.0 3815.6 C827.0 3814.7 827.5 3814.0 834.6 3816.6 C841.7 3819.3 858.4 3825.5 866.6 3831.5 C874.7 3837.6 879.2 3845.4 883.6 3852.8 C888.0 3860.3 891.4 3868.8 893.2 3876.3 C894.9 3883.7 895.5 3891.2 894.2 3897.5 C893.0 3903.9 889.3 3910.7 885.7 3914.6 C882.2 3918.5 877.6 3920.2 873.0 3921.0 C868.3 3921.7 863.4 3920.6 858.0 3918.8 C852.7 3917.1 843.9 3911.7 841.0 3910.3"/>
<path d="M818.7 3824.1 C819.9 3823.4 818.5 3817.9 826.1 3819.8 C833.7 3821.8 855.6 3829.9 864.4 3835.8 C873.3 3841.7 875.3 3847.9 879.3 3855.0 C883.4 3862.1 887.1 3871.3 888.9 3878.4 C890.7 3885.5 891.0 3892.0 890.0 3897.5 C888.9 3903.0 885.5 3908.2 882.5 3911.4 C879.5 3914.6 878.5 3917.6 871.9 3916.7 C865.3 3915.8 847.9 3907.8 843.1 3906.1"/>
<path d="M836.8 3835.8 C841.0 3837.6 855.9 3841.5 862.3 3846.4 C868.7 3851.4 871.9 3858.5 875.1 3865.6 C878.3 3872.7 880.9 3882.6 881.5 3889.0 C882.0 3895.4 880.0 3900.4 878.3 3903.9 C876.5 3907.5 876.7 3910.8 870.8 3910.3 C865.0 3909.8 847.8 3902.3 843.1 3900.7"/>
<path d="M816.5 3822.0 L818.7 3824.1"/>
<ellipse cx="2226.4" cy="3945.4" rx="14.4" ry="9.2"/>
<path d="M2209.5 3943.7 C2210.3 3942.7 2211.7 3939.1 2214.6 3937.7 C2217.4 3936.4 2222.5 3935.4 2226.4 3935.4 C2230.3 3935.4 2235.4 3936.4 2238.2 3937.7 C2241.1 3939.1 2242.7 3942.7 2243.5 3943.7"/>
<path d="M2209.5 3943.7 L2209.5 3989.8"/>
<path d="M2243.5 3943.7 L2243.5 3989.8"/>
<path d="M2211.5 3947.2 L2211.5 3995.7"/>
<path d="M2241.5 3947.2 L2241.5 3995.7"/>
<path d="M2211.6 3964.9 C2213.2 3965.9 2217.5 3970.0 2221.1 3970.9 C2224.6 3971.7 2229.5 3971.3 2232.9 3970.3 C2236.2 3969.3 2239.8 3965.8 2241.2 3964.9"/>
<path d="M2211.6 3981.5 C2213.2 3982.4 2217.5 3986.0 2221.1 3986.8 C2224.6 3987.6 2229.5 3987.2 2232.9 3986.2 C2236.2 3985.2 2239.8 3981.8 2241.2 3980.9"/>
<path d="M2209.5 3989.8 C2210.0 3991.2 2211.3 3995.7 2212.8 3998.1 C2214.3 4000.5 2215.2 4003.3 2218.7 4004.2 C2222.3 4005.2 2230.5 4004.8 2234.1 4003.7 C2237.6 4002.7 2238.4 4000.4 2240.0 3998.1 C2241.6 3995.7 2243.0 3991.2 2243.5 3989.8"/>
<path d="M2212.8 3997.5 C2214.0 3998.3 2216.5 4001.5 2219.9 4002.2 C2223.2 4002.9 2229.5 4002.8 2232.9 4001.8 C2236.2 4000.9 2238.8 3997.5 2240.0 3996.6" style="stroke-width:10;"/>
<path d="M2209.5 3978.0 C2207.7 3978.7 2201.6 3980.7 2198.6 3982.7 C2195.6 3984.7 2192.8 3987.4 2191.5 3989.8 C2190.2 3992.1 2190.4 3994.7 2190.6 3996.9 C2190.8 3999.0 2191.0 4000.4 2192.7 4002.8 C2194.4 4005.2 2197.6 4008.8 2201.0 4011.1 C2204.3 4013.3 2208.6 4015.2 2212.8 4016.4 C2217.0 4017.6 2222.1 4018.2 2226.4 4018.2 C2230.7 4018.2 2234.6 4017.6 2238.8 4016.4 C2243.0 4015.2 2248.3 4013.3 2251.8 4011.1 C2255.4 4008.8 2258.3 4005.4 2260.1 4002.8 C2261.9 4000.2 2262.7 3998.5 2262.5 3995.7 C2262.3 3992.9 2260.9 3988.9 2258.9 3986.2 C2256.9 3983.6 2253.2 3981.1 2250.6 3979.7 C2248.1 3978.3 2244.7 3978.2 2243.5 3978.0" style="stroke-width:4;"/>
<path d="M2190.5 3996.9 L2190.5 4005.7 L2196.2 4013.4" style="stroke-width:4;"/>
<path d="M2262.5 3995.7 L2262.5 4004.6 L2257.1 4013.4" style="stroke-width:4;"/>
<path d="M2190.6 4005.7 C2191.9 4007.0 2194.9 4011.3 2198.6 4013.4 C2202.3 4015.6 2208.2 4017.6 2212.8 4018.8 C2217.4 4019.9 2221.9 4020.5 2226.4 4020.5 C2230.9 4020.5 2235.6 4019.9 2240.0 4018.8 C2244.4 4017.6 2249.3 4015.8 2253.0 4013.4 C2256.7 4011.1 2260.9 4006.0 2262.5 4004.6" style="stroke-width:5;"/>
<path d="M2196.5 4013.4 L2196.5 4023.5 L2205.7 4031.2 L2216.3 4035.9 L2234.1 4036.5 L2248.3 4031.8 L2253.0 4024.1 L2256.0 4014.6" style="stroke-width:4;"/>
<path d="M2215.7 4022.3 L2216.6 4035.9" style="stroke-width:5;"/>
<path d="M2246.5 4019.9 L2246.5 4031.2" style="stroke-width:4;"/>
<path d="M2199.2 4016.4 L2215.7 4022.3 L2246.9 4019.9 L2253.0 4016.4"/>
<path d="M2248.3 4026.4 L2253.0 4018.2"/>
</g>
<g stroke="#fff" stroke-width="0.6">
<text x="691.0" y="2294.5" font-size="56" letter-spacing="1.0">49040</text>
<text x="1066.0" y="1899.5" font-size="56" letter-spacing="1.0">99999</text>
<text x="160.0" y="3791.0" font-size="56" letter-spacing="1.0">51044</text>
<text x="2382.0" y="4019.5" font-size="56" letter-spacing="1.0">92154</text>
<text x="1544.0" y="699.5" font-size="56" letter-spacing="1.0">670</text>
<text x="2900.0" y="146.5" font-size="49" letter-spacing="1.6">E1520</text>
<text transform="matrix(0.5 0.29 0 1 0 0)" x="390.7 473.4 551.0 634.3 718.0" y="211.3 210.9 210.7 210.6 210.0" font-size="78" font-weight="bold" stroke="#000" stroke-width="1.6">FRONT</text>
<text transform="translate(0 373) scale(0.88 1)" x="1103.8 1139.1 1175.1 1216.2 1251.0 1287.3 1324.5 1362.6 1401.7 1441.2 1475.1 1512.6 1546.5" y="0" text-anchor="middle" font-size="53">Ref.Fuel Tank</text>
</g>
</svg>
</body></html>
